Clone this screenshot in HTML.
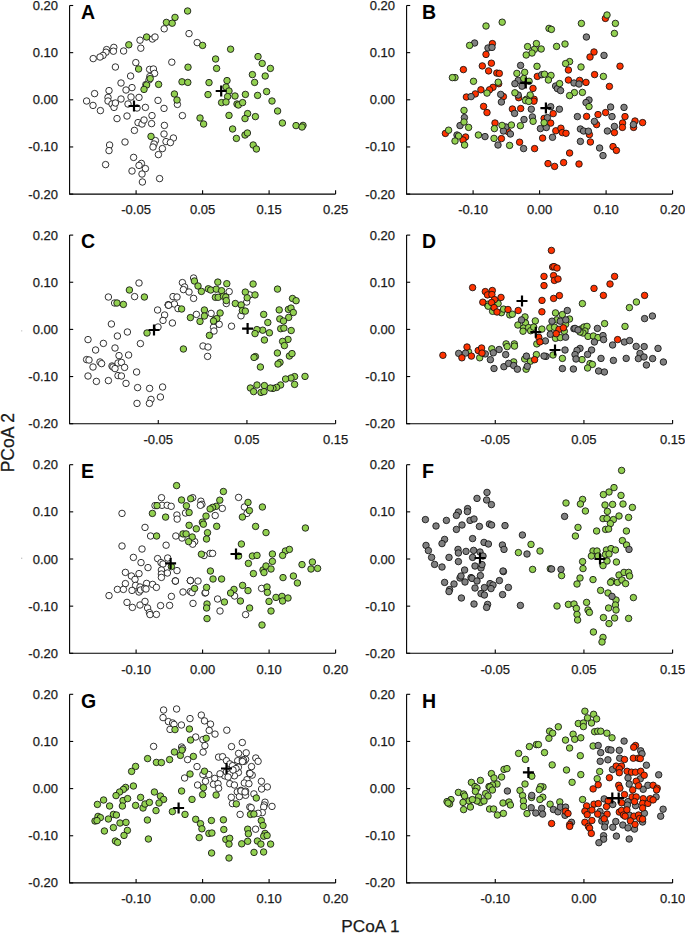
<!DOCTYPE html><html><head><meta charset="utf-8"><style>html,body{margin:0;padding:0;background:#fff;}svg{display:block;}text{font-family:"Liberation Sans",sans-serif;}</style></head><body><svg width="685" height="933" viewBox="0 0 685 933"><g><circle cx="164.2" cy="28.8" r="3.25" fill="#ffffff" stroke="#111" stroke-width="0.85"/><circle cx="189.0" cy="33.6" r="3.25" fill="#ffffff" stroke="#111" stroke-width="0.85"/><circle cx="197.2" cy="42.6" r="3.25" fill="#ffffff" stroke="#111" stroke-width="0.85"/><circle cx="140.0" cy="40.2" r="3.25" fill="#ffffff" stroke="#111" stroke-width="0.85"/><circle cx="152.4" cy="39.0" r="3.25" fill="#ffffff" stroke="#111" stroke-width="0.85"/><circle cx="155.0" cy="37.0" r="3.25" fill="#ffffff" stroke="#111" stroke-width="0.85"/><circle cx="140.8" cy="48.2" r="3.25" fill="#ffffff" stroke="#111" stroke-width="0.85"/><circle cx="113.8" cy="47.4" r="3.25" fill="#ffffff" stroke="#111" stroke-width="0.85"/><circle cx="106.6" cy="49.6" r="3.25" fill="#ffffff" stroke="#111" stroke-width="0.85"/><circle cx="113.4" cy="51.2" r="3.25" fill="#ffffff" stroke="#111" stroke-width="0.85"/><circle cx="123.6" cy="51.0" r="3.25" fill="#ffffff" stroke="#111" stroke-width="0.85"/><circle cx="106.0" cy="52.2" r="3.25" fill="#ffffff" stroke="#111" stroke-width="0.85"/><circle cx="103.0" cy="55.4" r="3.25" fill="#ffffff" stroke="#111" stroke-width="0.85"/><circle cx="100.0" cy="57.0" r="3.25" fill="#ffffff" stroke="#111" stroke-width="0.85"/><circle cx="93.2" cy="58.6" r="3.25" fill="#ffffff" stroke="#111" stroke-width="0.85"/><circle cx="115.4" cy="67.0" r="3.25" fill="#ffffff" stroke="#111" stroke-width="0.85"/><circle cx="135.8" cy="62.6" r="3.25" fill="#ffffff" stroke="#111" stroke-width="0.85"/><circle cx="171.8" cy="62.2" r="3.25" fill="#ffffff" stroke="#111" stroke-width="0.85"/><circle cx="149.6" cy="69.4" r="3.25" fill="#ffffff" stroke="#111" stroke-width="0.85"/><circle cx="153.4" cy="69.0" r="3.25" fill="#ffffff" stroke="#111" stroke-width="0.85"/><circle cx="154.6" cy="73.4" r="3.25" fill="#ffffff" stroke="#111" stroke-width="0.85"/><circle cx="149.8" cy="76.6" r="3.25" fill="#ffffff" stroke="#111" stroke-width="0.85"/><circle cx="130.6" cy="76.0" r="3.25" fill="#ffffff" stroke="#111" stroke-width="0.85"/><circle cx="121.0" cy="83.0" r="3.25" fill="#ffffff" stroke="#111" stroke-width="0.85"/><circle cx="132.0" cy="87.6" r="3.25" fill="#ffffff" stroke="#111" stroke-width="0.85"/><circle cx="126.0" cy="90.0" r="3.25" fill="#ffffff" stroke="#111" stroke-width="0.85"/><circle cx="109.0" cy="90.6" r="3.25" fill="#ffffff" stroke="#111" stroke-width="0.85"/><circle cx="94.6" cy="93.6" r="3.25" fill="#ffffff" stroke="#111" stroke-width="0.85"/><circle cx="145.8" cy="84.6" r="3.25" fill="#ffffff" stroke="#111" stroke-width="0.85"/><circle cx="149.0" cy="80.0" r="3.25" fill="#ffffff" stroke="#111" stroke-width="0.85"/><circle cx="86.6" cy="101.0" r="3.25" fill="#ffffff" stroke="#111" stroke-width="0.85"/><circle cx="93.0" cy="105.4" r="3.25" fill="#ffffff" stroke="#111" stroke-width="0.85"/><circle cx="100.4" cy="110.6" r="3.25" fill="#ffffff" stroke="#111" stroke-width="0.85"/><circle cx="108.0" cy="97.4" r="3.25" fill="#ffffff" stroke="#111" stroke-width="0.85"/><circle cx="108.0" cy="101.0" r="3.25" fill="#ffffff" stroke="#111" stroke-width="0.85"/><circle cx="112.0" cy="104.0" r="3.25" fill="#ffffff" stroke="#111" stroke-width="0.85"/><circle cx="114.0" cy="107.4" r="3.25" fill="#ffffff" stroke="#111" stroke-width="0.85"/><circle cx="115.4" cy="103.0" r="3.25" fill="#ffffff" stroke="#111" stroke-width="0.85"/><circle cx="121.0" cy="99.0" r="3.25" fill="#ffffff" stroke="#111" stroke-width="0.85"/><circle cx="131.0" cy="97.0" r="3.25" fill="#ffffff" stroke="#111" stroke-width="0.85"/><circle cx="139.0" cy="97.4" r="3.25" fill="#ffffff" stroke="#111" stroke-width="0.85"/><circle cx="128.0" cy="104.0" r="3.25" fill="#ffffff" stroke="#111" stroke-width="0.85"/><circle cx="137.0" cy="108.0" r="3.25" fill="#ffffff" stroke="#111" stroke-width="0.85"/><circle cx="145.4" cy="107.4" r="3.25" fill="#ffffff" stroke="#111" stroke-width="0.85"/><circle cx="158.0" cy="100.4" r="3.25" fill="#ffffff" stroke="#111" stroke-width="0.85"/><circle cx="164.0" cy="108.4" r="3.25" fill="#ffffff" stroke="#111" stroke-width="0.85"/><circle cx="177.4" cy="104.4" r="3.25" fill="#ffffff" stroke="#111" stroke-width="0.85"/><circle cx="182.4" cy="115.6" r="3.25" fill="#ffffff" stroke="#111" stroke-width="0.85"/><circle cx="152.0" cy="115.6" r="3.25" fill="#ffffff" stroke="#111" stroke-width="0.85"/><circle cx="127.0" cy="116.0" r="3.25" fill="#ffffff" stroke="#111" stroke-width="0.85"/><circle cx="117.0" cy="118.6" r="3.25" fill="#ffffff" stroke="#111" stroke-width="0.85"/><circle cx="138.0" cy="122.6" r="3.25" fill="#ffffff" stroke="#111" stroke-width="0.85"/><circle cx="142.0" cy="124.0" r="3.25" fill="#ffffff" stroke="#111" stroke-width="0.85"/><circle cx="144.0" cy="120.0" r="3.25" fill="#ffffff" stroke="#111" stroke-width="0.85"/><circle cx="151.6" cy="123.6" r="3.25" fill="#ffffff" stroke="#111" stroke-width="0.85"/><circle cx="164.4" cy="125.4" r="3.25" fill="#ffffff" stroke="#111" stroke-width="0.85"/><circle cx="134.4" cy="130.4" r="3.25" fill="#ffffff" stroke="#111" stroke-width="0.85"/><circle cx="164.0" cy="134.0" r="3.25" fill="#ffffff" stroke="#111" stroke-width="0.85"/><circle cx="173.4" cy="138.0" r="3.25" fill="#ffffff" stroke="#111" stroke-width="0.85"/><circle cx="155.4" cy="140.6" r="3.25" fill="#ffffff" stroke="#111" stroke-width="0.85"/><circle cx="166.0" cy="141.6" r="3.25" fill="#ffffff" stroke="#111" stroke-width="0.85"/><circle cx="170.4" cy="142.6" r="3.25" fill="#ffffff" stroke="#111" stroke-width="0.85"/><circle cx="154.0" cy="144.0" r="3.25" fill="#ffffff" stroke="#111" stroke-width="0.85"/><circle cx="153.0" cy="147.0" r="3.25" fill="#ffffff" stroke="#111" stroke-width="0.85"/><circle cx="162.4" cy="148.6" r="3.25" fill="#ffffff" stroke="#111" stroke-width="0.85"/><circle cx="158.4" cy="154.6" r="3.25" fill="#ffffff" stroke="#111" stroke-width="0.85"/><circle cx="125.0" cy="142.0" r="3.25" fill="#ffffff" stroke="#111" stroke-width="0.85"/><circle cx="109.6" cy="145.0" r="3.25" fill="#ffffff" stroke="#111" stroke-width="0.85"/><circle cx="109.0" cy="150.6" r="3.25" fill="#ffffff" stroke="#111" stroke-width="0.85"/><circle cx="133.6" cy="157.4" r="3.25" fill="#ffffff" stroke="#111" stroke-width="0.85"/><circle cx="141.4" cy="163.4" r="3.25" fill="#ffffff" stroke="#111" stroke-width="0.85"/><circle cx="139.0" cy="165.4" r="3.25" fill="#ffffff" stroke="#111" stroke-width="0.85"/><circle cx="145.4" cy="168.6" r="3.25" fill="#ffffff" stroke="#111" stroke-width="0.85"/><circle cx="132.0" cy="171.0" r="3.25" fill="#ffffff" stroke="#111" stroke-width="0.85"/><circle cx="142.0" cy="174.0" r="3.25" fill="#ffffff" stroke="#111" stroke-width="0.85"/><circle cx="159.6" cy="178.6" r="3.25" fill="#ffffff" stroke="#111" stroke-width="0.85"/><circle cx="142.4" cy="182.0" r="3.25" fill="#ffffff" stroke="#111" stroke-width="0.85"/><circle cx="105.6" cy="164.6" r="3.25" fill="#ffffff" stroke="#111" stroke-width="0.85"/><circle cx="187.6" cy="11.0" r="3.25" fill="#92d050" stroke="#111" stroke-width="0.85"/><circle cx="175.0" cy="17.4" r="3.25" fill="#92d050" stroke="#111" stroke-width="0.85"/><circle cx="166.4" cy="22.4" r="3.25" fill="#92d050" stroke="#111" stroke-width="0.85"/><circle cx="172.2" cy="23.2" r="3.25" fill="#92d050" stroke="#111" stroke-width="0.85"/><circle cx="146.6" cy="37.0" r="3.25" fill="#92d050" stroke="#111" stroke-width="0.85"/><circle cx="128.8" cy="44.8" r="3.25" fill="#92d050" stroke="#111" stroke-width="0.85"/><circle cx="202.6" cy="45.4" r="3.25" fill="#92d050" stroke="#111" stroke-width="0.85"/><circle cx="138.6" cy="69.0" r="3.25" fill="#92d050" stroke="#111" stroke-width="0.85"/><circle cx="188.0" cy="67.2" r="3.25" fill="#92d050" stroke="#111" stroke-width="0.85"/><circle cx="150.2" cy="78.6" r="3.25" fill="#92d050" stroke="#111" stroke-width="0.85"/><circle cx="158.6" cy="84.4" r="3.25" fill="#92d050" stroke="#111" stroke-width="0.85"/><circle cx="182.0" cy="81.8" r="3.25" fill="#92d050" stroke="#111" stroke-width="0.85"/><circle cx="187.8" cy="82.4" r="3.25" fill="#92d050" stroke="#111" stroke-width="0.85"/><circle cx="146.6" cy="85.0" r="3.25" fill="#92d050" stroke="#111" stroke-width="0.85"/><circle cx="144.0" cy="89.4" r="3.25" fill="#92d050" stroke="#111" stroke-width="0.85"/><circle cx="174.4" cy="94.0" r="3.25" fill="#92d050" stroke="#111" stroke-width="0.85"/><circle cx="230.6" cy="49.2" r="3.25" fill="#92d050" stroke="#111" stroke-width="0.85"/><circle cx="215.6" cy="59.0" r="3.25" fill="#92d050" stroke="#111" stroke-width="0.85"/><circle cx="216.6" cy="68.4" r="3.25" fill="#92d050" stroke="#111" stroke-width="0.85"/><circle cx="258.0" cy="56.6" r="3.25" fill="#92d050" stroke="#111" stroke-width="0.85"/><circle cx="262.2" cy="63.4" r="3.25" fill="#92d050" stroke="#111" stroke-width="0.85"/><circle cx="270.4" cy="68.4" r="3.25" fill="#92d050" stroke="#111" stroke-width="0.85"/><circle cx="252.4" cy="74.6" r="3.25" fill="#92d050" stroke="#111" stroke-width="0.85"/><circle cx="265.2" cy="76.0" r="3.25" fill="#92d050" stroke="#111" stroke-width="0.85"/><circle cx="254.6" cy="82.4" r="3.25" fill="#92d050" stroke="#111" stroke-width="0.85"/><circle cx="209.0" cy="82.6" r="3.25" fill="#92d050" stroke="#111" stroke-width="0.85"/><circle cx="227.0" cy="80.6" r="3.25" fill="#92d050" stroke="#111" stroke-width="0.85"/><circle cx="226.0" cy="87.0" r="3.25" fill="#92d050" stroke="#111" stroke-width="0.85"/><circle cx="229.0" cy="91.0" r="3.25" fill="#92d050" stroke="#111" stroke-width="0.85"/><circle cx="266.6" cy="91.6" r="3.25" fill="#92d050" stroke="#111" stroke-width="0.85"/><circle cx="208.0" cy="94.6" r="3.25" fill="#92d050" stroke="#111" stroke-width="0.85"/><circle cx="245.4" cy="94.4" r="3.25" fill="#92d050" stroke="#111" stroke-width="0.85"/><circle cx="235.0" cy="96.0" r="3.25" fill="#92d050" stroke="#111" stroke-width="0.85"/><circle cx="227.6" cy="96.6" r="3.25" fill="#92d050" stroke="#111" stroke-width="0.85"/><circle cx="257.6" cy="95.4" r="3.25" fill="#92d050" stroke="#111" stroke-width="0.85"/><circle cx="177.0" cy="100.0" r="3.25" fill="#92d050" stroke="#111" stroke-width="0.85"/><circle cx="151.0" cy="136.4" r="3.25" fill="#92d050" stroke="#111" stroke-width="0.85"/><circle cx="200.0" cy="118.0" r="3.25" fill="#92d050" stroke="#111" stroke-width="0.85"/><circle cx="203.6" cy="124.0" r="3.25" fill="#92d050" stroke="#111" stroke-width="0.85"/><circle cx="221.6" cy="102.6" r="3.25" fill="#92d050" stroke="#111" stroke-width="0.85"/><circle cx="226.0" cy="102.0" r="3.25" fill="#92d050" stroke="#111" stroke-width="0.85"/><circle cx="237.0" cy="104.0" r="3.25" fill="#92d050" stroke="#111" stroke-width="0.85"/><circle cx="238.4" cy="105.0" r="3.25" fill="#92d050" stroke="#111" stroke-width="0.85"/><circle cx="242.6" cy="102.6" r="3.25" fill="#92d050" stroke="#111" stroke-width="0.85"/><circle cx="229.0" cy="115.4" r="3.25" fill="#92d050" stroke="#111" stroke-width="0.85"/><circle cx="247.6" cy="113.6" r="3.25" fill="#92d050" stroke="#111" stroke-width="0.85"/><circle cx="245.0" cy="118.6" r="3.25" fill="#92d050" stroke="#111" stroke-width="0.85"/><circle cx="255.4" cy="116.6" r="3.25" fill="#92d050" stroke="#111" stroke-width="0.85"/><circle cx="272.0" cy="101.0" r="3.25" fill="#92d050" stroke="#111" stroke-width="0.85"/><circle cx="277.6" cy="111.0" r="3.25" fill="#92d050" stroke="#111" stroke-width="0.85"/><circle cx="282.4" cy="123.0" r="3.25" fill="#92d050" stroke="#111" stroke-width="0.85"/><circle cx="296.0" cy="125.6" r="3.25" fill="#92d050" stroke="#111" stroke-width="0.85"/><circle cx="303.0" cy="125.4" r="3.25" fill="#92d050" stroke="#111" stroke-width="0.85"/><circle cx="302.0" cy="127.0" r="3.25" fill="#92d050" stroke="#111" stroke-width="0.85"/><circle cx="232.6" cy="129.0" r="3.25" fill="#92d050" stroke="#111" stroke-width="0.85"/><circle cx="245.0" cy="135.0" r="3.25" fill="#92d050" stroke="#111" stroke-width="0.85"/><circle cx="247.4" cy="133.0" r="3.25" fill="#92d050" stroke="#111" stroke-width="0.85"/><circle cx="236.4" cy="138.4" r="3.25" fill="#92d050" stroke="#111" stroke-width="0.85"/><circle cx="253.2" cy="145.0" r="3.25" fill="#92d050" stroke="#111" stroke-width="0.85"/><circle cx="256.4" cy="149.0" r="3.25" fill="#92d050" stroke="#111" stroke-width="0.85"/><path d="M215.7 91.0h11M221.2 85.5v11" stroke="#000" stroke-width="2.2" fill="none"/><path d="M128.5 106.0h11M134.0 100.5v11" stroke="#000" stroke-width="2.2" fill="none"/><path d="M69.6 5.5V194.1H335.6" stroke="#000" stroke-width="1.1" fill="none"/><path d="M69.6 5.50h3.6" stroke="#000" stroke-width="1.1"/><text x="58.0" y="10.00" font-size="13" text-anchor="end" fill="#1a1a1a" stroke="#1a1a1a" stroke-width="0.25">0.20</text><path d="M69.6 52.65h3.6" stroke="#000" stroke-width="1.1"/><text x="58.0" y="57.15" font-size="13" text-anchor="end" fill="#1a1a1a" stroke="#1a1a1a" stroke-width="0.25">0.10</text><path d="M69.6 99.80h3.6" stroke="#000" stroke-width="1.1"/><text x="58.0" y="104.30" font-size="13" text-anchor="end" fill="#1a1a1a" stroke="#1a1a1a" stroke-width="0.25">0.00</text><path d="M69.6 146.95h3.6" stroke="#000" stroke-width="1.1"/><text x="58.0" y="151.45" font-size="13" text-anchor="end" fill="#1a1a1a" stroke="#1a1a1a" stroke-width="0.25">-0.10</text><path d="M69.6 194.10h3.6" stroke="#000" stroke-width="1.1"/><text x="58.0" y="198.60" font-size="13" text-anchor="end" fill="#1a1a1a" stroke="#1a1a1a" stroke-width="0.25">-0.20</text><path d="M136.10 194.1v-3.8" stroke="#000" stroke-width="1.1"/><text x="136.10" y="214.30" font-size="13" text-anchor="middle" fill="#1a1a1a" stroke="#1a1a1a" stroke-width="0.25">-0.05</text><path d="M202.60 194.1v-3.8" stroke="#000" stroke-width="1.1"/><text x="202.60" y="214.30" font-size="13" text-anchor="middle" fill="#1a1a1a" stroke="#1a1a1a" stroke-width="0.25">0.05</text><path d="M269.10 194.1v-3.8" stroke="#000" stroke-width="1.1"/><text x="269.10" y="214.30" font-size="13" text-anchor="middle" fill="#1a1a1a" stroke="#1a1a1a" stroke-width="0.25">0.15</text><path d="M335.60 194.1v-3.8" stroke="#000" stroke-width="1.1"/><text x="335.60" y="214.30" font-size="13" text-anchor="middle" fill="#1a1a1a" stroke="#1a1a1a" stroke-width="0.25">0.25</text><text x="81.0" y="18.7" font-size="19.5" font-weight="bold" fill="#000">A</text></g><g><circle cx="492.4" cy="43.6" r="3.25" fill="#ff3300" stroke="#111" stroke-width="0.85"/><circle cx="486.0" cy="54.4" r="3.25" fill="#ff3300" stroke="#111" stroke-width="0.85"/><circle cx="463.4" cy="69.6" r="3.25" fill="#ff3300" stroke="#111" stroke-width="0.85"/><circle cx="466.4" cy="97.0" r="3.25" fill="#ff3300" stroke="#111" stroke-width="0.85"/><circle cx="491.4" cy="63.2" r="3.25" fill="#ff3300" stroke="#111" stroke-width="0.85"/><circle cx="482.3" cy="65.9" r="3.25" fill="#ff3300" stroke="#111" stroke-width="0.85"/><circle cx="488.6" cy="70.9" r="3.25" fill="#ff3300" stroke="#111" stroke-width="0.85"/><circle cx="496.8" cy="73.1" r="3.25" fill="#ff3300" stroke="#111" stroke-width="0.85"/><circle cx="499.3" cy="73.4" r="3.25" fill="#ff3300" stroke="#111" stroke-width="0.85"/><circle cx="498.7" cy="83.7" r="3.25" fill="#ff3300" stroke="#111" stroke-width="0.85"/><circle cx="493.0" cy="87.3" r="3.25" fill="#ff3300" stroke="#111" stroke-width="0.85"/><circle cx="489.5" cy="89.8" r="3.25" fill="#ff3300" stroke="#111" stroke-width="0.85"/><circle cx="480.9" cy="89.8" r="3.25" fill="#ff3300" stroke="#111" stroke-width="0.85"/><circle cx="475.3" cy="93.9" r="3.25" fill="#ff3300" stroke="#111" stroke-width="0.85"/><circle cx="503.4" cy="96.6" r="3.25" fill="#ff3300" stroke="#111" stroke-width="0.85"/><circle cx="537.3" cy="76.4" r="3.25" fill="#ff3300" stroke="#111" stroke-width="0.85"/><circle cx="533.0" cy="88.4" r="3.25" fill="#ff3300" stroke="#111" stroke-width="0.85"/><circle cx="518.7" cy="97.7" r="3.25" fill="#ff3300" stroke="#111" stroke-width="0.85"/><circle cx="534.1" cy="99.3" r="3.25" fill="#ff3300" stroke="#111" stroke-width="0.85"/><circle cx="605.4" cy="18.4" r="3.25" fill="#ff3300" stroke="#111" stroke-width="0.85"/><circle cx="594.0" cy="52.0" r="3.25" fill="#ff3300" stroke="#111" stroke-width="0.85"/><circle cx="590.0" cy="57.0" r="3.25" fill="#ff3300" stroke="#111" stroke-width="0.85"/><circle cx="568.4" cy="70.0" r="3.25" fill="#ff3300" stroke="#111" stroke-width="0.85"/><circle cx="620.0" cy="66.2" r="3.25" fill="#ff3300" stroke="#111" stroke-width="0.85"/><circle cx="594.6" cy="74.6" r="3.25" fill="#ff3300" stroke="#111" stroke-width="0.85"/><circle cx="568.4" cy="80.0" r="3.25" fill="#ff3300" stroke="#111" stroke-width="0.85"/><circle cx="579.6" cy="80.4" r="3.25" fill="#ff3300" stroke="#111" stroke-width="0.85"/><circle cx="586.0" cy="82.4" r="3.25" fill="#ff3300" stroke="#111" stroke-width="0.85"/><circle cx="609.4" cy="86.4" r="3.25" fill="#ff3300" stroke="#111" stroke-width="0.85"/><circle cx="483.6" cy="106.4" r="3.25" fill="#ff3300" stroke="#111" stroke-width="0.85"/><circle cx="487.0" cy="112.6" r="3.25" fill="#ff3300" stroke="#111" stroke-width="0.85"/><circle cx="512.4" cy="109.0" r="3.25" fill="#ff3300" stroke="#111" stroke-width="0.85"/><circle cx="445.4" cy="133.4" r="3.25" fill="#ff3300" stroke="#111" stroke-width="0.85"/><circle cx="465.6" cy="137.0" r="3.25" fill="#ff3300" stroke="#111" stroke-width="0.85"/><circle cx="463.0" cy="140.0" r="3.25" fill="#ff3300" stroke="#111" stroke-width="0.85"/><circle cx="495.0" cy="123.0" r="3.25" fill="#ff3300" stroke="#111" stroke-width="0.85"/><circle cx="508.0" cy="131.6" r="3.25" fill="#ff3300" stroke="#111" stroke-width="0.85"/><circle cx="501.4" cy="138.6" r="3.25" fill="#ff3300" stroke="#111" stroke-width="0.85"/><circle cx="519.6" cy="142.2" r="3.25" fill="#ff3300" stroke="#111" stroke-width="0.85"/><circle cx="534.6" cy="148.6" r="3.25" fill="#ff3300" stroke="#111" stroke-width="0.85"/><circle cx="586.6" cy="116.4" r="3.25" fill="#ff3300" stroke="#111" stroke-width="0.85"/><circle cx="598.0" cy="114.6" r="3.25" fill="#ff3300" stroke="#111" stroke-width="0.85"/><circle cx="605.6" cy="112.6" r="3.25" fill="#ff3300" stroke="#111" stroke-width="0.85"/><circle cx="596.6" cy="124.6" r="3.25" fill="#ff3300" stroke="#111" stroke-width="0.85"/><circle cx="625.0" cy="116.6" r="3.25" fill="#ff3300" stroke="#111" stroke-width="0.85"/><circle cx="622.6" cy="123.0" r="3.25" fill="#ff3300" stroke="#111" stroke-width="0.85"/><circle cx="622.4" cy="127.4" r="3.25" fill="#ff3300" stroke="#111" stroke-width="0.85"/><circle cx="635.0" cy="121.0" r="3.25" fill="#ff3300" stroke="#111" stroke-width="0.85"/><circle cx="633.6" cy="127.4" r="3.25" fill="#ff3300" stroke="#111" stroke-width="0.85"/><circle cx="642.6" cy="122.6" r="3.25" fill="#ff3300" stroke="#111" stroke-width="0.85"/><circle cx="614.4" cy="132.6" r="3.25" fill="#ff3300" stroke="#111" stroke-width="0.85"/><circle cx="589.4" cy="134.6" r="3.25" fill="#ff3300" stroke="#111" stroke-width="0.85"/><circle cx="590.4" cy="142.0" r="3.25" fill="#ff3300" stroke="#111" stroke-width="0.85"/><circle cx="613.0" cy="146.6" r="3.25" fill="#ff3300" stroke="#111" stroke-width="0.85"/><circle cx="616.4" cy="150.4" r="3.25" fill="#ff3300" stroke="#111" stroke-width="0.85"/><circle cx="569.6" cy="153.0" r="3.25" fill="#ff3300" stroke="#111" stroke-width="0.85"/><circle cx="548.0" cy="163.6" r="3.25" fill="#ff3300" stroke="#111" stroke-width="0.85"/><circle cx="554.6" cy="166.4" r="3.25" fill="#ff3300" stroke="#111" stroke-width="0.85"/><circle cx="563.6" cy="162.6" r="3.25" fill="#ff3300" stroke="#111" stroke-width="0.85"/><circle cx="579.0" cy="164.0" r="3.25" fill="#ff3300" stroke="#111" stroke-width="0.85"/><circle cx="533.9" cy="101.2" r="3.25" fill="#ff3300" stroke="#111" stroke-width="0.85"/><circle cx="520.7" cy="108.5" r="3.25" fill="#ff3300" stroke="#111" stroke-width="0.85"/><circle cx="553.2" cy="113.6" r="3.25" fill="#ff3300" stroke="#111" stroke-width="0.85"/><circle cx="544.1" cy="118.4" r="3.25" fill="#ff3300" stroke="#111" stroke-width="0.85"/><circle cx="550.7" cy="123.1" r="3.25" fill="#ff3300" stroke="#111" stroke-width="0.85"/><circle cx="555.8" cy="130.8" r="3.25" fill="#ff3300" stroke="#111" stroke-width="0.85"/><circle cx="560.9" cy="128.2" r="3.25" fill="#ff3300" stroke="#111" stroke-width="0.85"/><circle cx="562.3" cy="132.6" r="3.25" fill="#ff3300" stroke="#111" stroke-width="0.85"/><circle cx="566.0" cy="133.3" r="3.25" fill="#ff3300" stroke="#111" stroke-width="0.85"/><circle cx="542.6" cy="138.1" r="3.25" fill="#ff3300" stroke="#111" stroke-width="0.85"/><circle cx="474.6" cy="43.0" r="3.25" fill="#808080" stroke="#111" stroke-width="0.85"/><circle cx="488.0" cy="48.0" r="3.25" fill="#808080" stroke="#111" stroke-width="0.85"/><circle cx="492.0" cy="47.4" r="3.25" fill="#808080" stroke="#111" stroke-width="0.85"/><circle cx="471.1" cy="96.6" r="3.25" fill="#808080" stroke="#111" stroke-width="0.85"/><circle cx="500.7" cy="94.4" r="3.25" fill="#808080" stroke="#111" stroke-width="0.85"/><circle cx="520.6" cy="65.4" r="3.25" fill="#808080" stroke="#111" stroke-width="0.85"/><circle cx="518.2" cy="80.4" r="3.25" fill="#808080" stroke="#111" stroke-width="0.85"/><circle cx="514.9" cy="83.7" r="3.25" fill="#808080" stroke="#111" stroke-width="0.85"/><circle cx="522.0" cy="86.2" r="3.25" fill="#808080" stroke="#111" stroke-width="0.85"/><circle cx="541.7" cy="74.7" r="3.25" fill="#808080" stroke="#111" stroke-width="0.85"/><circle cx="518.2" cy="95.0" r="3.25" fill="#808080" stroke="#111" stroke-width="0.85"/><circle cx="586.4" cy="37.0" r="3.25" fill="#808080" stroke="#111" stroke-width="0.85"/><circle cx="604.0" cy="55.4" r="3.25" fill="#808080" stroke="#111" stroke-width="0.85"/><circle cx="574.0" cy="83.0" r="3.25" fill="#808080" stroke="#111" stroke-width="0.85"/><circle cx="579.0" cy="84.0" r="3.25" fill="#808080" stroke="#111" stroke-width="0.85"/><circle cx="555.6" cy="86.0" r="3.25" fill="#808080" stroke="#111" stroke-width="0.85"/><circle cx="557.4" cy="88.6" r="3.25" fill="#808080" stroke="#111" stroke-width="0.85"/><circle cx="560.6" cy="90.6" r="3.25" fill="#808080" stroke="#111" stroke-width="0.85"/><circle cx="501.4" cy="102.0" r="3.25" fill="#808080" stroke="#111" stroke-width="0.85"/><circle cx="514.6" cy="113.4" r="3.25" fill="#808080" stroke="#111" stroke-width="0.85"/><circle cx="464.4" cy="117.6" r="3.25" fill="#808080" stroke="#111" stroke-width="0.85"/><circle cx="460.0" cy="125.6" r="3.25" fill="#808080" stroke="#111" stroke-width="0.85"/><circle cx="457.0" cy="135.0" r="3.25" fill="#808080" stroke="#111" stroke-width="0.85"/><circle cx="485.0" cy="136.6" r="3.25" fill="#808080" stroke="#111" stroke-width="0.85"/><circle cx="506.0" cy="127.0" r="3.25" fill="#808080" stroke="#111" stroke-width="0.85"/><circle cx="503.4" cy="131.0" r="3.25" fill="#808080" stroke="#111" stroke-width="0.85"/><circle cx="510.4" cy="134.0" r="3.25" fill="#808080" stroke="#111" stroke-width="0.85"/><circle cx="498.0" cy="145.0" r="3.25" fill="#808080" stroke="#111" stroke-width="0.85"/><circle cx="523.6" cy="148.6" r="3.25" fill="#808080" stroke="#111" stroke-width="0.85"/><circle cx="589.0" cy="100.0" r="3.25" fill="#808080" stroke="#111" stroke-width="0.85"/><circle cx="586.0" cy="102.6" r="3.25" fill="#808080" stroke="#111" stroke-width="0.85"/><circle cx="610.6" cy="107.0" r="3.25" fill="#808080" stroke="#111" stroke-width="0.85"/><circle cx="624.0" cy="107.4" r="3.25" fill="#808080" stroke="#111" stroke-width="0.85"/><circle cx="577.4" cy="116.6" r="3.25" fill="#808080" stroke="#111" stroke-width="0.85"/><circle cx="612.0" cy="116.6" r="3.25" fill="#808080" stroke="#111" stroke-width="0.85"/><circle cx="594.4" cy="121.4" r="3.25" fill="#808080" stroke="#111" stroke-width="0.85"/><circle cx="633.4" cy="124.6" r="3.25" fill="#808080" stroke="#111" stroke-width="0.85"/><circle cx="614.4" cy="126.4" r="3.25" fill="#808080" stroke="#111" stroke-width="0.85"/><circle cx="607.4" cy="131.0" r="3.25" fill="#808080" stroke="#111" stroke-width="0.85"/><circle cx="580.4" cy="129.0" r="3.25" fill="#808080" stroke="#111" stroke-width="0.85"/><circle cx="583.6" cy="131.0" r="3.25" fill="#808080" stroke="#111" stroke-width="0.85"/><circle cx="588.4" cy="131.2" r="3.25" fill="#808080" stroke="#111" stroke-width="0.85"/><circle cx="580.4" cy="141.4" r="3.25" fill="#808080" stroke="#111" stroke-width="0.85"/><circle cx="599.6" cy="148.0" r="3.25" fill="#808080" stroke="#111" stroke-width="0.85"/><circle cx="603.0" cy="155.6" r="3.25" fill="#808080" stroke="#111" stroke-width="0.85"/><circle cx="531.3" cy="109.2" r="3.25" fill="#808080" stroke="#111" stroke-width="0.85"/><circle cx="550.7" cy="106.7" r="3.25" fill="#808080" stroke="#111" stroke-width="0.85"/><circle cx="559.4" cy="109.2" r="3.25" fill="#808080" stroke="#111" stroke-width="0.85"/><circle cx="532.4" cy="116.9" r="3.25" fill="#808080" stroke="#111" stroke-width="0.85"/><circle cx="524.0" cy="119.5" r="3.25" fill="#808080" stroke="#111" stroke-width="0.85"/><circle cx="547.4" cy="117.6" r="3.25" fill="#808080" stroke="#111" stroke-width="0.85"/><circle cx="540.4" cy="128.6" r="3.25" fill="#808080" stroke="#111" stroke-width="0.85"/><circle cx="546.3" cy="127.5" r="3.25" fill="#808080" stroke="#111" stroke-width="0.85"/><circle cx="552.5" cy="137.3" r="3.25" fill="#808080" stroke="#111" stroke-width="0.85"/><circle cx="502.2" cy="22.2" r="3.25" fill="#92d050" stroke="#111" stroke-width="0.85"/><circle cx="486.0" cy="26.0" r="3.25" fill="#92d050" stroke="#111" stroke-width="0.85"/><circle cx="469.6" cy="45.4" r="3.25" fill="#92d050" stroke="#111" stroke-width="0.85"/><circle cx="527.6" cy="46.6" r="3.25" fill="#92d050" stroke="#111" stroke-width="0.85"/><circle cx="536.4" cy="43.6" r="3.25" fill="#92d050" stroke="#111" stroke-width="0.85"/><circle cx="534.4" cy="49.4" r="3.25" fill="#92d050" stroke="#111" stroke-width="0.85"/><circle cx="532.0" cy="53.0" r="3.25" fill="#92d050" stroke="#111" stroke-width="0.85"/><circle cx="526.2" cy="55.0" r="3.25" fill="#92d050" stroke="#111" stroke-width="0.85"/><circle cx="541.2" cy="49.0" r="3.25" fill="#92d050" stroke="#111" stroke-width="0.85"/><circle cx="455.0" cy="77.6" r="3.25" fill="#92d050" stroke="#111" stroke-width="0.85"/><circle cx="452.4" cy="77.6" r="3.25" fill="#92d050" stroke="#111" stroke-width="0.85"/><circle cx="473.5" cy="81.3" r="3.25" fill="#92d050" stroke="#111" stroke-width="0.85"/><circle cx="498.2" cy="82.2" r="3.25" fill="#92d050" stroke="#111" stroke-width="0.85"/><circle cx="487.0" cy="93.1" r="3.25" fill="#92d050" stroke="#111" stroke-width="0.85"/><circle cx="537.0" cy="66.3" r="3.25" fill="#92d050" stroke="#111" stroke-width="0.85"/><circle cx="516.9" cy="73.4" r="3.25" fill="#92d050" stroke="#111" stroke-width="0.85"/><circle cx="524.7" cy="72.3" r="3.25" fill="#92d050" stroke="#111" stroke-width="0.85"/><circle cx="523.7" cy="78.5" r="3.25" fill="#92d050" stroke="#111" stroke-width="0.85"/><circle cx="529.1" cy="81.3" r="3.25" fill="#92d050" stroke="#111" stroke-width="0.85"/><circle cx="544.5" cy="74.2" r="3.25" fill="#92d050" stroke="#111" stroke-width="0.85"/><circle cx="514.9" cy="92.8" r="3.25" fill="#92d050" stroke="#111" stroke-width="0.85"/><circle cx="530.2" cy="95.0" r="3.25" fill="#92d050" stroke="#111" stroke-width="0.85"/><circle cx="526.4" cy="99.3" r="3.25" fill="#92d050" stroke="#111" stroke-width="0.85"/><circle cx="607.0" cy="15.0" r="3.25" fill="#92d050" stroke="#111" stroke-width="0.85"/><circle cx="615.4" cy="23.4" r="3.25" fill="#92d050" stroke="#111" stroke-width="0.85"/><circle cx="614.4" cy="33.4" r="3.25" fill="#92d050" stroke="#111" stroke-width="0.85"/><circle cx="581.4" cy="23.4" r="3.25" fill="#92d050" stroke="#111" stroke-width="0.85"/><circle cx="549.0" cy="28.4" r="3.25" fill="#92d050" stroke="#111" stroke-width="0.85"/><circle cx="551.4" cy="29.4" r="3.25" fill="#92d050" stroke="#111" stroke-width="0.85"/><circle cx="565.0" cy="44.0" r="3.25" fill="#92d050" stroke="#111" stroke-width="0.85"/><circle cx="556.6" cy="46.4" r="3.25" fill="#92d050" stroke="#111" stroke-width="0.85"/><circle cx="569.6" cy="61.6" r="3.25" fill="#92d050" stroke="#111" stroke-width="0.85"/><circle cx="565.6" cy="63.6" r="3.25" fill="#92d050" stroke="#111" stroke-width="0.85"/><circle cx="581.0" cy="67.0" r="3.25" fill="#92d050" stroke="#111" stroke-width="0.85"/><circle cx="551.0" cy="75.4" r="3.25" fill="#92d050" stroke="#111" stroke-width="0.85"/><circle cx="548.4" cy="80.0" r="3.25" fill="#92d050" stroke="#111" stroke-width="0.85"/><circle cx="603.4" cy="76.4" r="3.25" fill="#92d050" stroke="#111" stroke-width="0.85"/><circle cx="559.6" cy="83.6" r="3.25" fill="#92d050" stroke="#111" stroke-width="0.85"/><circle cx="574.4" cy="92.6" r="3.25" fill="#92d050" stroke="#111" stroke-width="0.85"/><circle cx="582.4" cy="92.4" r="3.25" fill="#92d050" stroke="#111" stroke-width="0.85"/><circle cx="569.6" cy="95.6" r="3.25" fill="#92d050" stroke="#111" stroke-width="0.85"/><circle cx="464.0" cy="110.4" r="3.25" fill="#92d050" stroke="#111" stroke-width="0.85"/><circle cx="464.0" cy="122.0" r="3.25" fill="#92d050" stroke="#111" stroke-width="0.85"/><circle cx="468.6" cy="127.4" r="3.25" fill="#92d050" stroke="#111" stroke-width="0.85"/><circle cx="448.6" cy="130.2" r="3.25" fill="#92d050" stroke="#111" stroke-width="0.85"/><circle cx="458.6" cy="136.0" r="3.25" fill="#92d050" stroke="#111" stroke-width="0.85"/><circle cx="455.0" cy="141.0" r="3.25" fill="#92d050" stroke="#111" stroke-width="0.85"/><circle cx="464.6" cy="145.0" r="3.25" fill="#92d050" stroke="#111" stroke-width="0.85"/><circle cx="478.4" cy="135.0" r="3.25" fill="#92d050" stroke="#111" stroke-width="0.85"/><circle cx="494.4" cy="128.6" r="3.25" fill="#92d050" stroke="#111" stroke-width="0.85"/><circle cx="502.0" cy="125.4" r="3.25" fill="#92d050" stroke="#111" stroke-width="0.85"/><circle cx="511.4" cy="125.0" r="3.25" fill="#92d050" stroke="#111" stroke-width="0.85"/><circle cx="494.0" cy="138.4" r="3.25" fill="#92d050" stroke="#111" stroke-width="0.85"/><circle cx="509.6" cy="145.4" r="3.25" fill="#92d050" stroke="#111" stroke-width="0.85"/><circle cx="589.0" cy="106.6" r="3.25" fill="#92d050" stroke="#111" stroke-width="0.85"/><circle cx="525.5" cy="100.5" r="3.25" fill="#92d050" stroke="#111" stroke-width="0.85"/><circle cx="528.8" cy="101.4" r="3.25" fill="#92d050" stroke="#111" stroke-width="0.85"/><circle cx="533.1" cy="121.3" r="3.25" fill="#92d050" stroke="#111" stroke-width="0.85"/><circle cx="520.4" cy="125.7" r="3.25" fill="#92d050" stroke="#111" stroke-width="0.85"/><circle cx="544.1" cy="122.7" r="3.25" fill="#92d050" stroke="#111" stroke-width="0.85"/><path d="M520.3 82.9h11M525.8 77.4v11" stroke="#000" stroke-width="2.2" fill="none"/><path d="M540.4 108.1h11M545.9 102.6v11" stroke="#000" stroke-width="2.2" fill="none"/><path d="M406.6 5.5V194.1H672.6" stroke="#000" stroke-width="1.1" fill="none"/><path d="M406.6 5.50h3.6" stroke="#000" stroke-width="1.1"/><text x="395.0" y="10.00" font-size="13" text-anchor="end" fill="#1a1a1a" stroke="#1a1a1a" stroke-width="0.25">0.20</text><path d="M406.6 52.65h3.6" stroke="#000" stroke-width="1.1"/><text x="395.0" y="57.15" font-size="13" text-anchor="end" fill="#1a1a1a" stroke="#1a1a1a" stroke-width="0.25">0.10</text><path d="M406.6 99.80h3.6" stroke="#000" stroke-width="1.1"/><text x="395.0" y="104.30" font-size="13" text-anchor="end" fill="#1a1a1a" stroke="#1a1a1a" stroke-width="0.25">0.00</text><path d="M406.6 146.95h3.6" stroke="#000" stroke-width="1.1"/><text x="395.0" y="151.45" font-size="13" text-anchor="end" fill="#1a1a1a" stroke="#1a1a1a" stroke-width="0.25">-0.10</text><path d="M406.6 194.10h3.6" stroke="#000" stroke-width="1.1"/><text x="395.0" y="198.60" font-size="13" text-anchor="end" fill="#1a1a1a" stroke="#1a1a1a" stroke-width="0.25">-0.20</text><path d="M473.10 194.1v-3.8" stroke="#000" stroke-width="1.1"/><text x="473.10" y="214.30" font-size="13" text-anchor="middle" fill="#1a1a1a" stroke="#1a1a1a" stroke-width="0.25">-0.10</text><path d="M539.60 194.1v-3.8" stroke="#000" stroke-width="1.1"/><text x="539.60" y="214.30" font-size="13" text-anchor="middle" fill="#1a1a1a" stroke="#1a1a1a" stroke-width="0.25">0.00</text><path d="M606.10 194.1v-3.8" stroke="#000" stroke-width="1.1"/><text x="606.10" y="214.30" font-size="13" text-anchor="middle" fill="#1a1a1a" stroke="#1a1a1a" stroke-width="0.25">0.10</text><path d="M672.60 194.1v-3.8" stroke="#000" stroke-width="1.1"/><text x="672.60" y="214.30" font-size="13" text-anchor="middle" fill="#1a1a1a" stroke="#1a1a1a" stroke-width="0.25">0.20</text><text x="422.0" y="18.7" font-size="19.5" font-weight="bold" fill="#000">B</text></g><g><circle cx="139.0" cy="283.0" r="3.25" fill="#ffffff" stroke="#111" stroke-width="0.85"/><circle cx="108.4" cy="297.0" r="3.25" fill="#ffffff" stroke="#111" stroke-width="0.85"/><circle cx="114.6" cy="303.0" r="3.25" fill="#ffffff" stroke="#111" stroke-width="0.85"/><circle cx="134.6" cy="296.6" r="3.25" fill="#ffffff" stroke="#111" stroke-width="0.85"/><circle cx="182.4" cy="282.6" r="3.25" fill="#ffffff" stroke="#111" stroke-width="0.85"/><circle cx="193.6" cy="278.0" r="3.25" fill="#ffffff" stroke="#111" stroke-width="0.85"/><circle cx="184.6" cy="287.0" r="3.25" fill="#ffffff" stroke="#111" stroke-width="0.85"/><circle cx="183.4" cy="289.6" r="3.25" fill="#ffffff" stroke="#111" stroke-width="0.85"/><circle cx="189.0" cy="292.0" r="3.25" fill="#ffffff" stroke="#111" stroke-width="0.85"/><circle cx="193.6" cy="298.4" r="3.25" fill="#ffffff" stroke="#111" stroke-width="0.85"/><circle cx="173.0" cy="296.6" r="3.25" fill="#ffffff" stroke="#111" stroke-width="0.85"/><circle cx="177.0" cy="297.0" r="3.25" fill="#ffffff" stroke="#111" stroke-width="0.85"/><circle cx="174.4" cy="304.0" r="3.25" fill="#ffffff" stroke="#111" stroke-width="0.85"/><circle cx="168.4" cy="305.0" r="3.25" fill="#ffffff" stroke="#111" stroke-width="0.85"/><circle cx="168.4" cy="305.0" r="3.25" fill="#ffffff" stroke="#111" stroke-width="0.85"/><circle cx="168.2" cy="304.8" r="3.25" fill="#ffffff" stroke="#111" stroke-width="0.85"/><circle cx="168.6" cy="305.2" r="3.25" fill="#ffffff" stroke="#111" stroke-width="0.85"/><circle cx="178.0" cy="308.6" r="3.25" fill="#ffffff" stroke="#111" stroke-width="0.85"/><circle cx="157.6" cy="310.0" r="3.25" fill="#ffffff" stroke="#111" stroke-width="0.85"/><circle cx="164.6" cy="315.0" r="3.25" fill="#ffffff" stroke="#111" stroke-width="0.85"/><circle cx="163.0" cy="320.4" r="3.25" fill="#ffffff" stroke="#111" stroke-width="0.85"/><circle cx="172.4" cy="323.0" r="3.25" fill="#ffffff" stroke="#111" stroke-width="0.85"/><circle cx="196.4" cy="314.4" r="3.25" fill="#ffffff" stroke="#111" stroke-width="0.85"/><circle cx="111.4" cy="324.0" r="3.25" fill="#ffffff" stroke="#111" stroke-width="0.85"/><circle cx="158.0" cy="327.0" r="3.25" fill="#ffffff" stroke="#111" stroke-width="0.85"/><circle cx="229.2" cy="291.6" r="3.25" fill="#ffffff" stroke="#111" stroke-width="0.85"/><circle cx="226.3" cy="303.5" r="3.25" fill="#ffffff" stroke="#111" stroke-width="0.85"/><circle cx="249.6" cy="294.9" r="3.25" fill="#ffffff" stroke="#111" stroke-width="0.85"/><circle cx="246.7" cy="302.0" r="3.25" fill="#ffffff" stroke="#111" stroke-width="0.85"/><circle cx="241.0" cy="315.8" r="3.25" fill="#ffffff" stroke="#111" stroke-width="0.85"/><circle cx="211.1" cy="313.4" r="3.25" fill="#ffffff" stroke="#111" stroke-width="0.85"/><circle cx="219.2" cy="324.3" r="3.25" fill="#ffffff" stroke="#111" stroke-width="0.85"/><circle cx="213.5" cy="327.2" r="3.25" fill="#ffffff" stroke="#111" stroke-width="0.85"/><circle cx="231.5" cy="326.2" r="3.25" fill="#ffffff" stroke="#111" stroke-width="0.85"/><circle cx="127.4" cy="332.0" r="3.25" fill="#ffffff" stroke="#111" stroke-width="0.85"/><circle cx="117.4" cy="336.0" r="3.25" fill="#ffffff" stroke="#111" stroke-width="0.85"/><circle cx="88.0" cy="339.6" r="3.25" fill="#ffffff" stroke="#111" stroke-width="0.85"/><circle cx="103.4" cy="343.4" r="3.25" fill="#ffffff" stroke="#111" stroke-width="0.85"/><circle cx="95.6" cy="350.0" r="3.25" fill="#ffffff" stroke="#111" stroke-width="0.85"/><circle cx="115.0" cy="348.0" r="3.25" fill="#ffffff" stroke="#111" stroke-width="0.85"/><circle cx="140.4" cy="343.6" r="3.25" fill="#ffffff" stroke="#111" stroke-width="0.85"/><circle cx="119.0" cy="355.6" r="3.25" fill="#ffffff" stroke="#111" stroke-width="0.85"/><circle cx="128.6" cy="355.0" r="3.25" fill="#ffffff" stroke="#111" stroke-width="0.85"/><circle cx="86.6" cy="359.6" r="3.25" fill="#ffffff" stroke="#111" stroke-width="0.85"/><circle cx="89.0" cy="360.0" r="3.25" fill="#ffffff" stroke="#111" stroke-width="0.85"/><circle cx="100.0" cy="362.0" r="3.25" fill="#ffffff" stroke="#111" stroke-width="0.85"/><circle cx="101.6" cy="363.6" r="3.25" fill="#ffffff" stroke="#111" stroke-width="0.85"/><circle cx="93.0" cy="367.0" r="3.25" fill="#ffffff" stroke="#111" stroke-width="0.85"/><circle cx="112.0" cy="366.0" r="3.25" fill="#ffffff" stroke="#111" stroke-width="0.85"/><circle cx="113.0" cy="367.0" r="3.25" fill="#ffffff" stroke="#111" stroke-width="0.85"/><circle cx="118.0" cy="363.0" r="3.25" fill="#ffffff" stroke="#111" stroke-width="0.85"/><circle cx="121.4" cy="362.4" r="3.25" fill="#ffffff" stroke="#111" stroke-width="0.85"/><circle cx="115.0" cy="368.6" r="3.25" fill="#ffffff" stroke="#111" stroke-width="0.85"/><circle cx="124.6" cy="367.4" r="3.25" fill="#ffffff" stroke="#111" stroke-width="0.85"/><circle cx="136.6" cy="372.0" r="3.25" fill="#ffffff" stroke="#111" stroke-width="0.85"/><circle cx="88.0" cy="376.0" r="3.25" fill="#ffffff" stroke="#111" stroke-width="0.85"/><circle cx="118.0" cy="375.6" r="3.25" fill="#ffffff" stroke="#111" stroke-width="0.85"/><circle cx="121.4" cy="376.0" r="3.25" fill="#ffffff" stroke="#111" stroke-width="0.85"/><circle cx="96.4" cy="381.4" r="3.25" fill="#ffffff" stroke="#111" stroke-width="0.85"/><circle cx="108.4" cy="380.6" r="3.25" fill="#ffffff" stroke="#111" stroke-width="0.85"/><circle cx="126.0" cy="383.4" r="3.25" fill="#ffffff" stroke="#111" stroke-width="0.85"/><circle cx="137.6" cy="387.6" r="3.25" fill="#ffffff" stroke="#111" stroke-width="0.85"/><circle cx="149.6" cy="388.4" r="3.25" fill="#ffffff" stroke="#111" stroke-width="0.85"/><circle cx="162.6" cy="387.0" r="3.25" fill="#ffffff" stroke="#111" stroke-width="0.85"/><circle cx="160.4" cy="397.0" r="3.25" fill="#ffffff" stroke="#111" stroke-width="0.85"/><circle cx="151.0" cy="399.4" r="3.25" fill="#ffffff" stroke="#111" stroke-width="0.85"/><circle cx="137.0" cy="403.4" r="3.25" fill="#ffffff" stroke="#111" stroke-width="0.85"/><circle cx="149.4" cy="403.4" r="3.25" fill="#ffffff" stroke="#111" stroke-width="0.85"/><circle cx="214.0" cy="331.0" r="3.25" fill="#ffffff" stroke="#111" stroke-width="0.85"/><circle cx="203.0" cy="346.0" r="3.25" fill="#ffffff" stroke="#111" stroke-width="0.85"/><circle cx="208.0" cy="347.0" r="3.25" fill="#ffffff" stroke="#111" stroke-width="0.85"/><circle cx="207.6" cy="356.4" r="3.25" fill="#ffffff" stroke="#111" stroke-width="0.85"/><circle cx="129.4" cy="290.0" r="3.25" fill="#92d050" stroke="#111" stroke-width="0.85"/><circle cx="144.4" cy="297.0" r="3.25" fill="#92d050" stroke="#111" stroke-width="0.85"/><circle cx="117.0" cy="303.0" r="3.25" fill="#92d050" stroke="#111" stroke-width="0.85"/><circle cx="123.4" cy="304.4" r="3.25" fill="#92d050" stroke="#111" stroke-width="0.85"/><circle cx="194.4" cy="281.0" r="3.25" fill="#92d050" stroke="#111" stroke-width="0.85"/><circle cx="198.0" cy="286.0" r="3.25" fill="#92d050" stroke="#111" stroke-width="0.85"/><circle cx="201.4" cy="291.4" r="3.25" fill="#92d050" stroke="#111" stroke-width="0.85"/><circle cx="181.6" cy="309.0" r="3.25" fill="#92d050" stroke="#111" stroke-width="0.85"/><circle cx="190.4" cy="317.6" r="3.25" fill="#92d050" stroke="#111" stroke-width="0.85"/><circle cx="200.0" cy="321.4" r="3.25" fill="#92d050" stroke="#111" stroke-width="0.85"/><circle cx="204.4" cy="310.0" r="3.25" fill="#92d050" stroke="#111" stroke-width="0.85"/><circle cx="204.4" cy="316.0" r="3.25" fill="#92d050" stroke="#111" stroke-width="0.85"/><circle cx="217.8" cy="282.1" r="3.25" fill="#92d050" stroke="#111" stroke-width="0.85"/><circle cx="226.8" cy="283.7" r="3.25" fill="#92d050" stroke="#111" stroke-width="0.85"/><circle cx="253.1" cy="284.0" r="3.25" fill="#92d050" stroke="#111" stroke-width="0.85"/><circle cx="208.3" cy="288.8" r="3.25" fill="#92d050" stroke="#111" stroke-width="0.85"/><circle cx="210.7" cy="290.0" r="3.25" fill="#92d050" stroke="#111" stroke-width="0.85"/><circle cx="216.3" cy="289.2" r="3.25" fill="#92d050" stroke="#111" stroke-width="0.85"/><circle cx="221.6" cy="290.7" r="3.25" fill="#92d050" stroke="#111" stroke-width="0.85"/><circle cx="215.4" cy="297.3" r="3.25" fill="#92d050" stroke="#111" stroke-width="0.85"/><circle cx="218.2" cy="297.3" r="3.25" fill="#92d050" stroke="#111" stroke-width="0.85"/><circle cx="223.5" cy="296.3" r="3.25" fill="#92d050" stroke="#111" stroke-width="0.85"/><circle cx="225.8" cy="297.0" r="3.25" fill="#92d050" stroke="#111" stroke-width="0.85"/><circle cx="226.3" cy="300.6" r="3.25" fill="#92d050" stroke="#111" stroke-width="0.85"/><circle cx="245.3" cy="292.1" r="3.25" fill="#92d050" stroke="#111" stroke-width="0.85"/><circle cx="255.0" cy="294.9" r="3.25" fill="#92d050" stroke="#111" stroke-width="0.85"/><circle cx="247.2" cy="297.8" r="3.25" fill="#92d050" stroke="#111" stroke-width="0.85"/><circle cx="235.3" cy="303.5" r="3.25" fill="#92d050" stroke="#111" stroke-width="0.85"/><circle cx="241.2" cy="304.9" r="3.25" fill="#92d050" stroke="#111" stroke-width="0.85"/><circle cx="242.4" cy="310.6" r="3.25" fill="#92d050" stroke="#111" stroke-width="0.85"/><circle cx="245.3" cy="311.1" r="3.25" fill="#92d050" stroke="#111" stroke-width="0.85"/><circle cx="220.1" cy="313.0" r="3.25" fill="#92d050" stroke="#111" stroke-width="0.85"/><circle cx="214.9" cy="319.6" r="3.25" fill="#92d050" stroke="#111" stroke-width="0.85"/><circle cx="216.8" cy="318.6" r="3.25" fill="#92d050" stroke="#111" stroke-width="0.85"/><circle cx="213.5" cy="321.0" r="3.25" fill="#92d050" stroke="#111" stroke-width="0.85"/><circle cx="277.5" cy="289.1" r="3.25" fill="#92d050" stroke="#111" stroke-width="0.85"/><circle cx="292.5" cy="298.5" r="3.25" fill="#92d050" stroke="#111" stroke-width="0.85"/><circle cx="296.1" cy="300.7" r="3.25" fill="#92d050" stroke="#111" stroke-width="0.85"/><circle cx="279.2" cy="309.9" r="3.25" fill="#92d050" stroke="#111" stroke-width="0.85"/><circle cx="288.4" cy="309.4" r="3.25" fill="#92d050" stroke="#111" stroke-width="0.85"/><circle cx="291.0" cy="308.1" r="3.25" fill="#92d050" stroke="#111" stroke-width="0.85"/><circle cx="293.3" cy="312.5" r="3.25" fill="#92d050" stroke="#111" stroke-width="0.85"/><circle cx="288.7" cy="317.4" r="3.25" fill="#92d050" stroke="#111" stroke-width="0.85"/><circle cx="263.7" cy="314.4" r="3.25" fill="#92d050" stroke="#111" stroke-width="0.85"/><circle cx="279.8" cy="318.9" r="3.25" fill="#92d050" stroke="#111" stroke-width="0.85"/><circle cx="283.5" cy="321.0" r="3.25" fill="#92d050" stroke="#111" stroke-width="0.85"/><circle cx="267.8" cy="322.5" r="3.25" fill="#92d050" stroke="#111" stroke-width="0.85"/><circle cx="280.7" cy="328.7" r="3.25" fill="#92d050" stroke="#111" stroke-width="0.85"/><circle cx="283.9" cy="328.1" r="3.25" fill="#92d050" stroke="#111" stroke-width="0.85"/><circle cx="291.2" cy="330.5" r="3.25" fill="#92d050" stroke="#111" stroke-width="0.85"/><circle cx="262.7" cy="330.2" r="3.25" fill="#92d050" stroke="#111" stroke-width="0.85"/><circle cx="256.9" cy="329.6" r="3.25" fill="#92d050" stroke="#111" stroke-width="0.85"/><circle cx="269.4" cy="332.8" r="3.25" fill="#92d050" stroke="#111" stroke-width="0.85"/><circle cx="147.0" cy="333.0" r="3.25" fill="#92d050" stroke="#111" stroke-width="0.85"/><circle cx="183.4" cy="349.0" r="3.25" fill="#92d050" stroke="#111" stroke-width="0.85"/><circle cx="209.4" cy="335.4" r="3.25" fill="#92d050" stroke="#111" stroke-width="0.85"/><circle cx="255.0" cy="333.6" r="3.25" fill="#92d050" stroke="#111" stroke-width="0.85"/><circle cx="264.4" cy="340.0" r="3.25" fill="#92d050" stroke="#111" stroke-width="0.85"/><circle cx="288.0" cy="339.4" r="3.25" fill="#92d050" stroke="#111" stroke-width="0.85"/><circle cx="282.6" cy="341.4" r="3.25" fill="#92d050" stroke="#111" stroke-width="0.85"/><circle cx="284.4" cy="345.6" r="3.25" fill="#92d050" stroke="#111" stroke-width="0.85"/><circle cx="277.4" cy="353.0" r="3.25" fill="#92d050" stroke="#111" stroke-width="0.85"/><circle cx="289.4" cy="356.0" r="3.25" fill="#92d050" stroke="#111" stroke-width="0.85"/><circle cx="292.0" cy="353.6" r="3.25" fill="#92d050" stroke="#111" stroke-width="0.85"/><circle cx="255.4" cy="356.6" r="3.25" fill="#92d050" stroke="#111" stroke-width="0.85"/><circle cx="254.0" cy="357.4" r="3.25" fill="#92d050" stroke="#111" stroke-width="0.85"/><circle cx="260.4" cy="367.0" r="3.25" fill="#92d050" stroke="#111" stroke-width="0.85"/><circle cx="280.0" cy="362.4" r="3.25" fill="#92d050" stroke="#111" stroke-width="0.85"/><circle cx="278.0" cy="364.0" r="3.25" fill="#92d050" stroke="#111" stroke-width="0.85"/><circle cx="305.0" cy="376.4" r="3.25" fill="#92d050" stroke="#111" stroke-width="0.85"/><circle cx="294.6" cy="376.6" r="3.25" fill="#92d050" stroke="#111" stroke-width="0.85"/><circle cx="291.0" cy="378.0" r="3.25" fill="#92d050" stroke="#111" stroke-width="0.85"/><circle cx="285.6" cy="379.0" r="3.25" fill="#92d050" stroke="#111" stroke-width="0.85"/><circle cx="294.6" cy="384.4" r="3.25" fill="#92d050" stroke="#111" stroke-width="0.85"/><circle cx="280.6" cy="385.0" r="3.25" fill="#92d050" stroke="#111" stroke-width="0.85"/><circle cx="276.6" cy="387.4" r="3.25" fill="#92d050" stroke="#111" stroke-width="0.85"/><circle cx="273.0" cy="388.4" r="3.25" fill="#92d050" stroke="#111" stroke-width="0.85"/><circle cx="270.4" cy="388.0" r="3.25" fill="#92d050" stroke="#111" stroke-width="0.85"/><circle cx="264.4" cy="385.6" r="3.25" fill="#92d050" stroke="#111" stroke-width="0.85"/><circle cx="257.0" cy="385.0" r="3.25" fill="#92d050" stroke="#111" stroke-width="0.85"/><circle cx="250.4" cy="388.0" r="3.25" fill="#92d050" stroke="#111" stroke-width="0.85"/><circle cx="253.6" cy="391.6" r="3.25" fill="#92d050" stroke="#111" stroke-width="0.85"/><circle cx="261.0" cy="392.4" r="3.25" fill="#92d050" stroke="#111" stroke-width="0.85"/><circle cx="264.0" cy="391.6" r="3.25" fill="#92d050" stroke="#111" stroke-width="0.85"/><path d="M148.5 330.0h11M154.0 324.5v11" stroke="#000" stroke-width="2.2" fill="none"/><path d="M242.1 328.6h11M247.6 323.1v11" stroke="#000" stroke-width="2.2" fill="none"/><path d="M69.6 235.1V423.7H335.6" stroke="#000" stroke-width="1.1" fill="none"/><path d="M69.6 235.10h3.6" stroke="#000" stroke-width="1.1"/><text x="58.0" y="239.60" font-size="13" text-anchor="end" fill="#1a1a1a" stroke="#1a1a1a" stroke-width="0.25">0.20</text><path d="M69.6 282.25h3.6" stroke="#000" stroke-width="1.1"/><text x="58.0" y="286.75" font-size="13" text-anchor="end" fill="#1a1a1a" stroke="#1a1a1a" stroke-width="0.25">0.10</text><path d="M69.6 329.40h3.6" stroke="#000" stroke-width="1.1"/><text x="58.0" y="333.90" font-size="13" text-anchor="end" fill="#1a1a1a" stroke="#1a1a1a" stroke-width="0.25">0.00</text><path d="M69.6 376.55h3.6" stroke="#000" stroke-width="1.1"/><text x="58.0" y="381.05" font-size="13" text-anchor="end" fill="#1a1a1a" stroke="#1a1a1a" stroke-width="0.25">-0.10</text><path d="M69.6 423.70h3.6" stroke="#000" stroke-width="1.1"/><text x="58.0" y="428.20" font-size="13" text-anchor="end" fill="#1a1a1a" stroke="#1a1a1a" stroke-width="0.25">-0.20</text><path d="M158.27 423.7v-3.8" stroke="#000" stroke-width="1.1"/><text x="158.27" y="443.90" font-size="13" text-anchor="middle" fill="#1a1a1a" stroke="#1a1a1a" stroke-width="0.25">-0.05</text><path d="M246.93 423.7v-3.8" stroke="#000" stroke-width="1.1"/><text x="246.93" y="443.90" font-size="13" text-anchor="middle" fill="#1a1a1a" stroke="#1a1a1a" stroke-width="0.25">0.05</text><path d="M335.60 423.7v-3.8" stroke="#000" stroke-width="1.1"/><text x="335.60" y="443.90" font-size="13" text-anchor="middle" fill="#1a1a1a" stroke="#1a1a1a" stroke-width="0.25">0.15</text><text x="81.0" y="248.3" font-size="19.5" font-weight="bold" fill="#000">C</text></g><g><circle cx="487.2" cy="304.3" r="3.25" fill="#92d050" stroke="#111" stroke-width="0.85"/><circle cx="488.2" cy="306.2" r="3.25" fill="#92d050" stroke="#111" stroke-width="0.85"/><circle cx="498.1" cy="303.6" r="3.25" fill="#92d050" stroke="#111" stroke-width="0.85"/><circle cx="492.6" cy="311.3" r="3.25" fill="#92d050" stroke="#111" stroke-width="0.85"/><circle cx="501.4" cy="312.7" r="3.25" fill="#92d050" stroke="#111" stroke-width="0.85"/><circle cx="503.6" cy="309.1" r="3.25" fill="#92d050" stroke="#111" stroke-width="0.85"/><circle cx="509.8" cy="314.9" r="3.25" fill="#92d050" stroke="#111" stroke-width="0.85"/><circle cx="512.3" cy="314.2" r="3.25" fill="#92d050" stroke="#111" stroke-width="0.85"/><circle cx="555.5" cy="312.9" r="3.25" fill="#92d050" stroke="#111" stroke-width="0.85"/><circle cx="562.3" cy="314.6" r="3.25" fill="#92d050" stroke="#111" stroke-width="0.85"/><circle cx="569.5" cy="319.0" r="3.25" fill="#92d050" stroke="#111" stroke-width="0.85"/><circle cx="556.8" cy="319.9" r="3.25" fill="#92d050" stroke="#111" stroke-width="0.85"/><circle cx="549.8" cy="327.8" r="3.25" fill="#92d050" stroke="#111" stroke-width="0.85"/><circle cx="554.6" cy="327.3" r="3.25" fill="#92d050" stroke="#111" stroke-width="0.85"/><circle cx="555.5" cy="338.3" r="3.25" fill="#92d050" stroke="#111" stroke-width="0.85"/><circle cx="560.3" cy="337.6" r="3.25" fill="#92d050" stroke="#111" stroke-width="0.85"/><circle cx="564.3" cy="331.3" r="3.25" fill="#92d050" stroke="#111" stroke-width="0.85"/><circle cx="565.6" cy="324.3" r="3.25" fill="#92d050" stroke="#111" stroke-width="0.85"/><circle cx="525.0" cy="316.9" r="3.25" fill="#92d050" stroke="#111" stroke-width="0.85"/><circle cx="525.5" cy="323.0" r="3.25" fill="#92d050" stroke="#111" stroke-width="0.85"/><circle cx="517.9" cy="325.0" r="3.25" fill="#92d050" stroke="#111" stroke-width="0.85"/><circle cx="523.5" cy="328.1" r="3.25" fill="#92d050" stroke="#111" stroke-width="0.85"/><circle cx="523.0" cy="331.2" r="3.25" fill="#92d050" stroke="#111" stroke-width="0.85"/><circle cx="528.6" cy="327.6" r="3.25" fill="#92d050" stroke="#111" stroke-width="0.85"/><circle cx="530.7" cy="330.7" r="3.25" fill="#92d050" stroke="#111" stroke-width="0.85"/><circle cx="535.3" cy="320.9" r="3.25" fill="#92d050" stroke="#111" stroke-width="0.85"/><circle cx="533.7" cy="327.1" r="3.25" fill="#92d050" stroke="#111" stroke-width="0.85"/><circle cx="541.9" cy="329.1" r="3.25" fill="#92d050" stroke="#111" stroke-width="0.85"/><circle cx="536.8" cy="343.9" r="3.25" fill="#92d050" stroke="#111" stroke-width="0.85"/><circle cx="506.1" cy="343.9" r="3.25" fill="#92d050" stroke="#111" stroke-width="0.85"/><circle cx="514.3" cy="343.9" r="3.25" fill="#92d050" stroke="#111" stroke-width="0.85"/><circle cx="582.4" cy="303.6" r="3.25" fill="#92d050" stroke="#111" stroke-width="0.85"/><circle cx="629.4" cy="307.6" r="3.25" fill="#92d050" stroke="#111" stroke-width="0.85"/><circle cx="636.4" cy="302.0" r="3.25" fill="#92d050" stroke="#111" stroke-width="0.85"/><circle cx="468.5" cy="351.7" r="3.25" fill="#92d050" stroke="#111" stroke-width="0.85"/><circle cx="479.7" cy="357.8" r="3.25" fill="#92d050" stroke="#111" stroke-width="0.85"/><circle cx="491.8" cy="348.8" r="3.25" fill="#92d050" stroke="#111" stroke-width="0.85"/><circle cx="507.2" cy="346.6" r="3.25" fill="#92d050" stroke="#111" stroke-width="0.85"/><circle cx="514.5" cy="346.1" r="3.25" fill="#92d050" stroke="#111" stroke-width="0.85"/><circle cx="513.7" cy="361.9" r="3.25" fill="#92d050" stroke="#111" stroke-width="0.85"/><circle cx="524.7" cy="359.0" r="3.25" fill="#92d050" stroke="#111" stroke-width="0.85"/><circle cx="530.5" cy="361.2" r="3.25" fill="#92d050" stroke="#111" stroke-width="0.85"/><circle cx="536.4" cy="354.6" r="3.25" fill="#92d050" stroke="#111" stroke-width="0.85"/><circle cx="526.1" cy="369.2" r="3.25" fill="#92d050" stroke="#111" stroke-width="0.85"/><circle cx="553.0" cy="355.0" r="3.25" fill="#92d050" stroke="#111" stroke-width="0.85"/><circle cx="562.4" cy="358.4" r="3.25" fill="#92d050" stroke="#111" stroke-width="0.85"/><circle cx="581.0" cy="329.0" r="3.25" fill="#92d050" stroke="#111" stroke-width="0.85"/><circle cx="584.0" cy="327.0" r="3.25" fill="#92d050" stroke="#111" stroke-width="0.85"/><circle cx="587.0" cy="326.4" r="3.25" fill="#92d050" stroke="#111" stroke-width="0.85"/><circle cx="585.0" cy="331.0" r="3.25" fill="#92d050" stroke="#111" stroke-width="0.85"/><circle cx="583.0" cy="333.0" r="3.25" fill="#92d050" stroke="#111" stroke-width="0.85"/><circle cx="580.0" cy="332.0" r="3.25" fill="#92d050" stroke="#111" stroke-width="0.85"/><circle cx="604.6" cy="323.6" r="3.25" fill="#92d050" stroke="#111" stroke-width="0.85"/><circle cx="625.0" cy="326.4" r="3.25" fill="#92d050" stroke="#111" stroke-width="0.85"/><circle cx="588.0" cy="336.4" r="3.25" fill="#92d050" stroke="#111" stroke-width="0.85"/><circle cx="593.4" cy="336.0" r="3.25" fill="#92d050" stroke="#111" stroke-width="0.85"/><circle cx="598.0" cy="337.6" r="3.25" fill="#92d050" stroke="#111" stroke-width="0.85"/><circle cx="582.0" cy="359.6" r="3.25" fill="#92d050" stroke="#111" stroke-width="0.85"/><circle cx="590.0" cy="363.6" r="3.25" fill="#92d050" stroke="#111" stroke-width="0.85"/><circle cx="592.4" cy="364.4" r="3.25" fill="#92d050" stroke="#111" stroke-width="0.85"/><circle cx="587.6" cy="368.0" r="3.25" fill="#92d050" stroke="#111" stroke-width="0.85"/><circle cx="567.3" cy="310.5" r="3.25" fill="#808080" stroke="#111" stroke-width="0.85"/><circle cx="552.0" cy="321.2" r="3.25" fill="#808080" stroke="#111" stroke-width="0.85"/><circle cx="560.3" cy="321.2" r="3.25" fill="#808080" stroke="#111" stroke-width="0.85"/><circle cx="565.8" cy="319.9" r="3.25" fill="#808080" stroke="#111" stroke-width="0.85"/><circle cx="550.3" cy="334.3" r="3.25" fill="#808080" stroke="#111" stroke-width="0.85"/><circle cx="565.6" cy="337.2" r="3.25" fill="#808080" stroke="#111" stroke-width="0.85"/><circle cx="573.9" cy="328.7" r="3.25" fill="#808080" stroke="#111" stroke-width="0.85"/><circle cx="545.4" cy="340.9" r="3.25" fill="#808080" stroke="#111" stroke-width="0.85"/><circle cx="521.5" cy="319.9" r="3.25" fill="#808080" stroke="#111" stroke-width="0.85"/><circle cx="644.6" cy="318.6" r="3.25" fill="#808080" stroke="#111" stroke-width="0.85"/><circle cx="652.4" cy="316.0" r="3.25" fill="#808080" stroke="#111" stroke-width="0.85"/><circle cx="458.7" cy="353.4" r="3.25" fill="#808080" stroke="#111" stroke-width="0.85"/><circle cx="465.5" cy="353.1" r="3.25" fill="#808080" stroke="#111" stroke-width="0.85"/><circle cx="485.3" cy="353.9" r="3.25" fill="#808080" stroke="#111" stroke-width="0.85"/><circle cx="493.3" cy="352.8" r="3.25" fill="#808080" stroke="#111" stroke-width="0.85"/><circle cx="490.4" cy="359.7" r="3.25" fill="#808080" stroke="#111" stroke-width="0.85"/><circle cx="499.1" cy="349.5" r="3.25" fill="#808080" stroke="#111" stroke-width="0.85"/><circle cx="505.7" cy="354.6" r="3.25" fill="#808080" stroke="#111" stroke-width="0.85"/><circle cx="494.0" cy="368.5" r="3.25" fill="#808080" stroke="#111" stroke-width="0.85"/><circle cx="503.9" cy="366.7" r="3.25" fill="#808080" stroke="#111" stroke-width="0.85"/><circle cx="508.6" cy="363.4" r="3.25" fill="#808080" stroke="#111" stroke-width="0.85"/><circle cx="513.7" cy="365.5" r="3.25" fill="#808080" stroke="#111" stroke-width="0.85"/><circle cx="517.4" cy="369.2" r="3.25" fill="#808080" stroke="#111" stroke-width="0.85"/><circle cx="526.4" cy="356.1" r="3.25" fill="#808080" stroke="#111" stroke-width="0.85"/><circle cx="527.3" cy="366.3" r="3.25" fill="#808080" stroke="#111" stroke-width="0.85"/><circle cx="565.0" cy="350.0" r="3.25" fill="#808080" stroke="#111" stroke-width="0.85"/><circle cx="546.0" cy="356.4" r="3.25" fill="#808080" stroke="#111" stroke-width="0.85"/><circle cx="544.0" cy="356.0" r="3.25" fill="#808080" stroke="#111" stroke-width="0.85"/><circle cx="562.4" cy="368.6" r="3.25" fill="#808080" stroke="#111" stroke-width="0.85"/><circle cx="573.4" cy="369.0" r="3.25" fill="#808080" stroke="#111" stroke-width="0.85"/><circle cx="575.0" cy="328.4" r="3.25" fill="#808080" stroke="#111" stroke-width="0.85"/><circle cx="578.0" cy="330.0" r="3.25" fill="#808080" stroke="#111" stroke-width="0.85"/><circle cx="597.4" cy="328.4" r="3.25" fill="#808080" stroke="#111" stroke-width="0.85"/><circle cx="594.4" cy="342.0" r="3.25" fill="#808080" stroke="#111" stroke-width="0.85"/><circle cx="603.0" cy="335.6" r="3.25" fill="#808080" stroke="#111" stroke-width="0.85"/><circle cx="603.6" cy="339.6" r="3.25" fill="#808080" stroke="#111" stroke-width="0.85"/><circle cx="612.6" cy="345.0" r="3.25" fill="#808080" stroke="#111" stroke-width="0.85"/><circle cx="624.4" cy="342.0" r="3.25" fill="#808080" stroke="#111" stroke-width="0.85"/><circle cx="629.6" cy="340.6" r="3.25" fill="#808080" stroke="#111" stroke-width="0.85"/><circle cx="636.2" cy="346.4" r="3.25" fill="#808080" stroke="#111" stroke-width="0.85"/><circle cx="644.2" cy="346.6" r="3.25" fill="#808080" stroke="#111" stroke-width="0.85"/><circle cx="658.0" cy="348.4" r="3.25" fill="#808080" stroke="#111" stroke-width="0.85"/><circle cx="640.0" cy="353.4" r="3.25" fill="#808080" stroke="#111" stroke-width="0.85"/><circle cx="638.4" cy="358.6" r="3.25" fill="#808080" stroke="#111" stroke-width="0.85"/><circle cx="644.0" cy="357.0" r="3.25" fill="#808080" stroke="#111" stroke-width="0.85"/><circle cx="652.6" cy="358.6" r="3.25" fill="#808080" stroke="#111" stroke-width="0.85"/><circle cx="646.4" cy="365.0" r="3.25" fill="#808080" stroke="#111" stroke-width="0.85"/><circle cx="663.4" cy="362.0" r="3.25" fill="#808080" stroke="#111" stroke-width="0.85"/><circle cx="626.2" cy="358.4" r="3.25" fill="#808080" stroke="#111" stroke-width="0.85"/><circle cx="613.4" cy="360.4" r="3.25" fill="#808080" stroke="#111" stroke-width="0.85"/><circle cx="601.0" cy="358.4" r="3.25" fill="#808080" stroke="#111" stroke-width="0.85"/><circle cx="591.6" cy="350.0" r="3.25" fill="#808080" stroke="#111" stroke-width="0.85"/><circle cx="587.6" cy="354.4" r="3.25" fill="#808080" stroke="#111" stroke-width="0.85"/><circle cx="580.0" cy="348.4" r="3.25" fill="#808080" stroke="#111" stroke-width="0.85"/><circle cx="577.0" cy="350.4" r="3.25" fill="#808080" stroke="#111" stroke-width="0.85"/><circle cx="575.0" cy="354.6" r="3.25" fill="#808080" stroke="#111" stroke-width="0.85"/><circle cx="576.0" cy="359.0" r="3.25" fill="#808080" stroke="#111" stroke-width="0.85"/><circle cx="598.6" cy="371.0" r="3.25" fill="#808080" stroke="#111" stroke-width="0.85"/><circle cx="604.4" cy="372.0" r="3.25" fill="#808080" stroke="#111" stroke-width="0.85"/><circle cx="472.6" cy="287.6" r="3.25" fill="#ff3300" stroke="#111" stroke-width="0.85"/><circle cx="485.3" cy="291.6" r="3.25" fill="#ff3300" stroke="#111" stroke-width="0.85"/><circle cx="492.3" cy="290.5" r="3.25" fill="#ff3300" stroke="#111" stroke-width="0.85"/><circle cx="487.5" cy="294.9" r="3.25" fill="#ff3300" stroke="#111" stroke-width="0.85"/><circle cx="491.9" cy="294.5" r="3.25" fill="#ff3300" stroke="#111" stroke-width="0.85"/><circle cx="501.0" cy="297.4" r="3.25" fill="#ff3300" stroke="#111" stroke-width="0.85"/><circle cx="482.8" cy="302.2" r="3.25" fill="#ff3300" stroke="#111" stroke-width="0.85"/><circle cx="494.5" cy="299.6" r="3.25" fill="#ff3300" stroke="#111" stroke-width="0.85"/><circle cx="491.5" cy="302.5" r="3.25" fill="#ff3300" stroke="#111" stroke-width="0.85"/><circle cx="494.1" cy="307.6" r="3.25" fill="#ff3300" stroke="#111" stroke-width="0.85"/><circle cx="497.0" cy="312.0" r="3.25" fill="#ff3300" stroke="#111" stroke-width="0.85"/><circle cx="508.0" cy="309.5" r="3.25" fill="#ff3300" stroke="#111" stroke-width="0.85"/><circle cx="518.2" cy="310.5" r="3.25" fill="#ff3300" stroke="#111" stroke-width="0.85"/><circle cx="559.0" cy="329.3" r="3.25" fill="#ff3300" stroke="#111" stroke-width="0.85"/><circle cx="563.4" cy="327.8" r="3.25" fill="#ff3300" stroke="#111" stroke-width="0.85"/><circle cx="556.2" cy="333.7" r="3.25" fill="#ff3300" stroke="#111" stroke-width="0.85"/><circle cx="541.9" cy="311.8" r="3.25" fill="#ff3300" stroke="#111" stroke-width="0.85"/><circle cx="538.8" cy="337.3" r="3.25" fill="#ff3300" stroke="#111" stroke-width="0.85"/><circle cx="539.9" cy="341.9" r="3.25" fill="#ff3300" stroke="#111" stroke-width="0.85"/><circle cx="551.4" cy="250.4" r="3.25" fill="#ff3300" stroke="#111" stroke-width="0.85"/><circle cx="552.6" cy="267.0" r="3.25" fill="#ff3300" stroke="#111" stroke-width="0.85"/><circle cx="554.0" cy="266.6" r="3.25" fill="#ff3300" stroke="#111" stroke-width="0.85"/><circle cx="557.0" cy="268.0" r="3.25" fill="#ff3300" stroke="#111" stroke-width="0.85"/><circle cx="544.0" cy="276.4" r="3.25" fill="#ff3300" stroke="#111" stroke-width="0.85"/><circle cx="553.6" cy="275.6" r="3.25" fill="#ff3300" stroke="#111" stroke-width="0.85"/><circle cx="554.4" cy="280.4" r="3.25" fill="#ff3300" stroke="#111" stroke-width="0.85"/><circle cx="558.0" cy="279.0" r="3.25" fill="#ff3300" stroke="#111" stroke-width="0.85"/><circle cx="544.0" cy="285.6" r="3.25" fill="#ff3300" stroke="#111" stroke-width="0.85"/><circle cx="542.0" cy="300.4" r="3.25" fill="#ff3300" stroke="#111" stroke-width="0.85"/><circle cx="553.6" cy="298.4" r="3.25" fill="#ff3300" stroke="#111" stroke-width="0.85"/><circle cx="559.4" cy="295.6" r="3.25" fill="#ff3300" stroke="#111" stroke-width="0.85"/><circle cx="594.0" cy="288.4" r="3.25" fill="#ff3300" stroke="#111" stroke-width="0.85"/><circle cx="610.0" cy="284.0" r="3.25" fill="#ff3300" stroke="#111" stroke-width="0.85"/><circle cx="614.6" cy="276.4" r="3.25" fill="#ff3300" stroke="#111" stroke-width="0.85"/><circle cx="603.4" cy="295.4" r="3.25" fill="#ff3300" stroke="#111" stroke-width="0.85"/><circle cx="644.6" cy="295.4" r="3.25" fill="#ff3300" stroke="#111" stroke-width="0.85"/><circle cx="442.9" cy="355.3" r="3.25" fill="#ff3300" stroke="#111" stroke-width="0.85"/><circle cx="467.0" cy="347.0" r="3.25" fill="#ff3300" stroke="#111" stroke-width="0.85"/><circle cx="461.9" cy="357.8" r="3.25" fill="#ff3300" stroke="#111" stroke-width="0.85"/><circle cx="471.4" cy="356.1" r="3.25" fill="#ff3300" stroke="#111" stroke-width="0.85"/><circle cx="478.2" cy="350.5" r="3.25" fill="#ff3300" stroke="#111" stroke-width="0.85"/><circle cx="481.6" cy="348.0" r="3.25" fill="#ff3300" stroke="#111" stroke-width="0.85"/><circle cx="482.0" cy="353.1" r="3.25" fill="#ff3300" stroke="#111" stroke-width="0.85"/><circle cx="534.6" cy="359.7" r="3.25" fill="#ff3300" stroke="#111" stroke-width="0.85"/><circle cx="617.6" cy="339.6" r="3.25" fill="#ff3300" stroke="#111" stroke-width="0.85"/><path d="M516.5 301.0h11M522.0 295.5v11" stroke="#000" stroke-width="2.2" fill="none"/><path d="M530.3 332.2h11M535.8 326.7v11" stroke="#000" stroke-width="2.2" fill="none"/><path d="M549.5 350.0h11M555.0 344.5v11" stroke="#000" stroke-width="2.2" fill="none"/><path d="M406.6 235.1V423.7H672.6" stroke="#000" stroke-width="1.1" fill="none"/><path d="M406.6 235.10h3.6" stroke="#000" stroke-width="1.1"/><text x="395.0" y="239.60" font-size="13" text-anchor="end" fill="#1a1a1a" stroke="#1a1a1a" stroke-width="0.25">0.20</text><path d="M406.6 282.25h3.6" stroke="#000" stroke-width="1.1"/><text x="395.0" y="286.75" font-size="13" text-anchor="end" fill="#1a1a1a" stroke="#1a1a1a" stroke-width="0.25">0.10</text><path d="M406.6 329.40h3.6" stroke="#000" stroke-width="1.1"/><text x="395.0" y="333.90" font-size="13" text-anchor="end" fill="#1a1a1a" stroke="#1a1a1a" stroke-width="0.25">0.00</text><path d="M406.6 376.55h3.6" stroke="#000" stroke-width="1.1"/><text x="395.0" y="381.05" font-size="13" text-anchor="end" fill="#1a1a1a" stroke="#1a1a1a" stroke-width="0.25">-0.10</text><path d="M406.6 423.70h3.6" stroke="#000" stroke-width="1.1"/><text x="395.0" y="428.20" font-size="13" text-anchor="end" fill="#1a1a1a" stroke="#1a1a1a" stroke-width="0.25">-0.20</text><path d="M495.27 423.7v-3.8" stroke="#000" stroke-width="1.1"/><text x="495.27" y="443.90" font-size="13" text-anchor="middle" fill="#1a1a1a" stroke="#1a1a1a" stroke-width="0.25">-0.05</text><path d="M583.93 423.7v-3.8" stroke="#000" stroke-width="1.1"/><text x="583.93" y="443.90" font-size="13" text-anchor="middle" fill="#1a1a1a" stroke="#1a1a1a" stroke-width="0.25">0.05</text><path d="M672.60 423.7v-3.8" stroke="#000" stroke-width="1.1"/><text x="672.60" y="443.90" font-size="13" text-anchor="middle" fill="#1a1a1a" stroke="#1a1a1a" stroke-width="0.25">0.15</text><text x="422.0" y="248.3" font-size="19.5" font-weight="bold" fill="#000">D</text></g><g><circle cx="155.0" cy="505.6" r="3.25" fill="#ffffff" stroke="#111" stroke-width="0.85"/><circle cx="122.0" cy="513.4" r="3.25" fill="#ffffff" stroke="#111" stroke-width="0.85"/><circle cx="145.0" cy="527.4" r="3.25" fill="#ffffff" stroke="#111" stroke-width="0.85"/><circle cx="150.6" cy="536.0" r="3.25" fill="#ffffff" stroke="#111" stroke-width="0.85"/><circle cx="122.0" cy="546.0" r="3.25" fill="#ffffff" stroke="#111" stroke-width="0.85"/><circle cx="142.0" cy="549.0" r="3.25" fill="#ffffff" stroke="#111" stroke-width="0.85"/><circle cx="192.7" cy="497.7" r="3.25" fill="#ffffff" stroke="#111" stroke-width="0.85"/><circle cx="200.9" cy="501.2" r="3.25" fill="#ffffff" stroke="#111" stroke-width="0.85"/><circle cx="201.9" cy="504.3" r="3.25" fill="#ffffff" stroke="#111" stroke-width="0.85"/><circle cx="200.4" cy="505.3" r="3.25" fill="#ffffff" stroke="#111" stroke-width="0.85"/><circle cx="222.3" cy="508.4" r="3.25" fill="#ffffff" stroke="#111" stroke-width="0.85"/><circle cx="215.2" cy="515.5" r="3.25" fill="#ffffff" stroke="#111" stroke-width="0.85"/><circle cx="185.5" cy="513.0" r="3.25" fill="#ffffff" stroke="#111" stroke-width="0.85"/><circle cx="176.9" cy="515.0" r="3.25" fill="#ffffff" stroke="#111" stroke-width="0.85"/><circle cx="177.2" cy="519.1" r="3.25" fill="#ffffff" stroke="#111" stroke-width="0.85"/><circle cx="161.5" cy="497.7" r="3.25" fill="#ffffff" stroke="#111" stroke-width="0.85"/><circle cx="162.0" cy="505.3" r="3.25" fill="#ffffff" stroke="#111" stroke-width="0.85"/><circle cx="167.2" cy="505.3" r="3.25" fill="#ffffff" stroke="#111" stroke-width="0.85"/><circle cx="171.2" cy="506.3" r="3.25" fill="#ffffff" stroke="#111" stroke-width="0.85"/><circle cx="175.8" cy="536.0" r="3.25" fill="#ffffff" stroke="#111" stroke-width="0.85"/><circle cx="182.0" cy="538.0" r="3.25" fill="#ffffff" stroke="#111" stroke-width="0.85"/><circle cx="194.7" cy="541.6" r="3.25" fill="#ffffff" stroke="#111" stroke-width="0.85"/><circle cx="192.7" cy="544.2" r="3.25" fill="#ffffff" stroke="#111" stroke-width="0.85"/><circle cx="166.1" cy="545.2" r="3.25" fill="#ffffff" stroke="#111" stroke-width="0.85"/><circle cx="210.1" cy="553.4" r="3.25" fill="#ffffff" stroke="#111" stroke-width="0.85"/><circle cx="212.6" cy="553.4" r="3.25" fill="#ffffff" stroke="#111" stroke-width="0.85"/><circle cx="167.7" cy="558.0" r="3.25" fill="#ffffff" stroke="#111" stroke-width="0.85"/><circle cx="238.6" cy="497.4" r="3.25" fill="#ffffff" stroke="#111" stroke-width="0.85"/><circle cx="244.4" cy="507.0" r="3.25" fill="#ffffff" stroke="#111" stroke-width="0.85"/><circle cx="247.0" cy="513.4" r="3.25" fill="#ffffff" stroke="#111" stroke-width="0.85"/><circle cx="133.4" cy="557.4" r="3.25" fill="#ffffff" stroke="#111" stroke-width="0.85"/><circle cx="157.6" cy="558.6" r="3.25" fill="#ffffff" stroke="#111" stroke-width="0.85"/><circle cx="141.0" cy="562.6" r="3.25" fill="#ffffff" stroke="#111" stroke-width="0.85"/><circle cx="148.0" cy="567.6" r="3.25" fill="#ffffff" stroke="#111" stroke-width="0.85"/><circle cx="161.0" cy="562.6" r="3.25" fill="#ffffff" stroke="#111" stroke-width="0.85"/><circle cx="163.0" cy="564.0" r="3.25" fill="#ffffff" stroke="#111" stroke-width="0.85"/><circle cx="161.4" cy="570.0" r="3.25" fill="#ffffff" stroke="#111" stroke-width="0.85"/><circle cx="161.4" cy="574.0" r="3.25" fill="#ffffff" stroke="#111" stroke-width="0.85"/><circle cx="161.4" cy="577.4" r="3.25" fill="#ffffff" stroke="#111" stroke-width="0.85"/><circle cx="167.4" cy="573.0" r="3.25" fill="#ffffff" stroke="#111" stroke-width="0.85"/><circle cx="177.0" cy="570.6" r="3.25" fill="#ffffff" stroke="#111" stroke-width="0.85"/><circle cx="125.4" cy="572.4" r="3.25" fill="#ffffff" stroke="#111" stroke-width="0.85"/><circle cx="131.4" cy="576.0" r="3.25" fill="#ffffff" stroke="#111" stroke-width="0.85"/><circle cx="139.0" cy="573.6" r="3.25" fill="#ffffff" stroke="#111" stroke-width="0.85"/><circle cx="135.0" cy="579.4" r="3.25" fill="#ffffff" stroke="#111" stroke-width="0.85"/><circle cx="125.4" cy="583.6" r="3.25" fill="#ffffff" stroke="#111" stroke-width="0.85"/><circle cx="135.6" cy="585.4" r="3.25" fill="#ffffff" stroke="#111" stroke-width="0.85"/><circle cx="140.0" cy="587.0" r="3.25" fill="#ffffff" stroke="#111" stroke-width="0.85"/><circle cx="146.6" cy="583.4" r="3.25" fill="#ffffff" stroke="#111" stroke-width="0.85"/><circle cx="152.6" cy="584.4" r="3.25" fill="#ffffff" stroke="#111" stroke-width="0.85"/><circle cx="156.4" cy="587.4" r="3.25" fill="#ffffff" stroke="#111" stroke-width="0.85"/><circle cx="117.4" cy="589.4" r="3.25" fill="#ffffff" stroke="#111" stroke-width="0.85"/><circle cx="123.4" cy="589.4" r="3.25" fill="#ffffff" stroke="#111" stroke-width="0.85"/><circle cx="132.0" cy="590.4" r="3.25" fill="#ffffff" stroke="#111" stroke-width="0.85"/><circle cx="139.0" cy="592.0" r="3.25" fill="#ffffff" stroke="#111" stroke-width="0.85"/><circle cx="140.6" cy="590.0" r="3.25" fill="#ffffff" stroke="#111" stroke-width="0.85"/><circle cx="144.6" cy="588.4" r="3.25" fill="#ffffff" stroke="#111" stroke-width="0.85"/><circle cx="146.0" cy="589.0" r="3.25" fill="#ffffff" stroke="#111" stroke-width="0.85"/><circle cx="109.0" cy="595.6" r="3.25" fill="#ffffff" stroke="#111" stroke-width="0.85"/><circle cx="127.0" cy="602.4" r="3.25" fill="#ffffff" stroke="#111" stroke-width="0.85"/><circle cx="132.4" cy="607.4" r="3.25" fill="#ffffff" stroke="#111" stroke-width="0.85"/><circle cx="140.0" cy="605.0" r="3.25" fill="#ffffff" stroke="#111" stroke-width="0.85"/><circle cx="145.0" cy="601.4" r="3.25" fill="#ffffff" stroke="#111" stroke-width="0.85"/><circle cx="147.6" cy="608.0" r="3.25" fill="#ffffff" stroke="#111" stroke-width="0.85"/><circle cx="149.4" cy="612.6" r="3.25" fill="#ffffff" stroke="#111" stroke-width="0.85"/><circle cx="150.0" cy="614.6" r="3.25" fill="#ffffff" stroke="#111" stroke-width="0.85"/><circle cx="156.4" cy="614.4" r="3.25" fill="#ffffff" stroke="#111" stroke-width="0.85"/><circle cx="160.6" cy="605.6" r="3.25" fill="#ffffff" stroke="#111" stroke-width="0.85"/><circle cx="169.6" cy="605.4" r="3.25" fill="#ffffff" stroke="#111" stroke-width="0.85"/><circle cx="171.4" cy="596.4" r="3.25" fill="#ffffff" stroke="#111" stroke-width="0.85"/><circle cx="175.4" cy="581.0" r="3.25" fill="#ffffff" stroke="#111" stroke-width="0.85"/><circle cx="175.4" cy="581.0" r="3.25" fill="#ffffff" stroke="#111" stroke-width="0.85"/><circle cx="175.4" cy="581.0" r="3.25" fill="#ffffff" stroke="#111" stroke-width="0.85"/><circle cx="190.4" cy="580.6" r="3.25" fill="#ffffff" stroke="#111" stroke-width="0.85"/><circle cx="190.4" cy="580.6" r="3.25" fill="#ffffff" stroke="#111" stroke-width="0.85"/><circle cx="190.4" cy="580.6" r="3.25" fill="#ffffff" stroke="#111" stroke-width="0.85"/><circle cx="198.0" cy="581.0" r="3.25" fill="#ffffff" stroke="#111" stroke-width="0.85"/><circle cx="183.0" cy="592.0" r="3.25" fill="#ffffff" stroke="#111" stroke-width="0.85"/><circle cx="190.4" cy="591.6" r="3.25" fill="#ffffff" stroke="#111" stroke-width="0.85"/><circle cx="192.0" cy="592.6" r="3.25" fill="#ffffff" stroke="#111" stroke-width="0.85"/><circle cx="193.0" cy="603.4" r="3.25" fill="#ffffff" stroke="#111" stroke-width="0.85"/><circle cx="205.0" cy="593.0" r="3.25" fill="#ffffff" stroke="#111" stroke-width="0.85"/><circle cx="204.0" cy="555.5" r="3.25" fill="#ffffff" stroke="#111" stroke-width="0.85"/><circle cx="205.6" cy="592.6" r="3.25" fill="#ffffff" stroke="#111" stroke-width="0.85"/><circle cx="217.6" cy="599.0" r="3.25" fill="#ffffff" stroke="#111" stroke-width="0.85"/><circle cx="220.0" cy="611.0" r="3.25" fill="#ffffff" stroke="#111" stroke-width="0.85"/><circle cx="234.6" cy="596.0" r="3.25" fill="#ffffff" stroke="#111" stroke-width="0.85"/><circle cx="245.6" cy="614.6" r="3.25" fill="#ffffff" stroke="#111" stroke-width="0.85"/><circle cx="261.6" cy="588.4" r="3.25" fill="#ffffff" stroke="#111" stroke-width="0.85"/><circle cx="176.6" cy="485.6" r="3.25" fill="#92d050" stroke="#111" stroke-width="0.85"/><circle cx="157.0" cy="505.6" r="3.25" fill="#92d050" stroke="#111" stroke-width="0.85"/><circle cx="152.4" cy="513.4" r="3.25" fill="#92d050" stroke="#111" stroke-width="0.85"/><circle cx="156.6" cy="536.0" r="3.25" fill="#92d050" stroke="#111" stroke-width="0.85"/><circle cx="223.4" cy="491.5" r="3.25" fill="#92d050" stroke="#111" stroke-width="0.85"/><circle cx="181.5" cy="500.0" r="3.25" fill="#92d050" stroke="#111" stroke-width="0.85"/><circle cx="190.7" cy="498.7" r="3.25" fill="#92d050" stroke="#111" stroke-width="0.85"/><circle cx="219.8" cy="500.2" r="3.25" fill="#92d050" stroke="#111" stroke-width="0.85"/><circle cx="186.4" cy="505.8" r="3.25" fill="#92d050" stroke="#111" stroke-width="0.85"/><circle cx="216.2" cy="506.3" r="3.25" fill="#92d050" stroke="#111" stroke-width="0.85"/><circle cx="212.6" cy="507.4" r="3.25" fill="#92d050" stroke="#111" stroke-width="0.85"/><circle cx="210.1" cy="508.9" r="3.25" fill="#92d050" stroke="#111" stroke-width="0.85"/><circle cx="189.1" cy="512.5" r="3.25" fill="#92d050" stroke="#111" stroke-width="0.85"/><circle cx="165.6" cy="517.1" r="3.25" fill="#92d050" stroke="#111" stroke-width="0.85"/><circle cx="206.0" cy="516.1" r="3.25" fill="#92d050" stroke="#111" stroke-width="0.85"/><circle cx="202.4" cy="522.2" r="3.25" fill="#92d050" stroke="#111" stroke-width="0.85"/><circle cx="203.4" cy="524.2" r="3.25" fill="#92d050" stroke="#111" stroke-width="0.85"/><circle cx="189.1" cy="525.3" r="3.25" fill="#92d050" stroke="#111" stroke-width="0.85"/><circle cx="196.3" cy="528.8" r="3.25" fill="#92d050" stroke="#111" stroke-width="0.85"/><circle cx="216.7" cy="526.3" r="3.25" fill="#92d050" stroke="#111" stroke-width="0.85"/><circle cx="207.5" cy="532.7" r="3.25" fill="#92d050" stroke="#111" stroke-width="0.85"/><circle cx="206.5" cy="539.0" r="3.25" fill="#92d050" stroke="#111" stroke-width="0.85"/><circle cx="183.0" cy="533.9" r="3.25" fill="#92d050" stroke="#111" stroke-width="0.85"/><circle cx="186.1" cy="533.9" r="3.25" fill="#92d050" stroke="#111" stroke-width="0.85"/><circle cx="192.2" cy="537.0" r="3.25" fill="#92d050" stroke="#111" stroke-width="0.85"/><circle cx="188.6" cy="541.6" r="3.25" fill="#92d050" stroke="#111" stroke-width="0.85"/><circle cx="201.4" cy="554.2" r="3.25" fill="#92d050" stroke="#111" stroke-width="0.85"/><circle cx="248.0" cy="502.4" r="3.25" fill="#92d050" stroke="#111" stroke-width="0.85"/><circle cx="249.4" cy="510.6" r="3.25" fill="#92d050" stroke="#111" stroke-width="0.85"/><circle cx="242.4" cy="517.0" r="3.25" fill="#92d050" stroke="#111" stroke-width="0.85"/><circle cx="262.4" cy="507.0" r="3.25" fill="#92d050" stroke="#111" stroke-width="0.85"/><circle cx="255.6" cy="526.4" r="3.25" fill="#92d050" stroke="#111" stroke-width="0.85"/><circle cx="266.0" cy="532.6" r="3.25" fill="#92d050" stroke="#111" stroke-width="0.85"/><circle cx="305.4" cy="528.0" r="3.25" fill="#92d050" stroke="#111" stroke-width="0.85"/><circle cx="241.4" cy="544.0" r="3.25" fill="#92d050" stroke="#111" stroke-width="0.85"/><circle cx="238.6" cy="556.0" r="3.25" fill="#92d050" stroke="#111" stroke-width="0.85"/><circle cx="252.4" cy="556.0" r="3.25" fill="#92d050" stroke="#111" stroke-width="0.85"/><circle cx="257.0" cy="555.4" r="3.25" fill="#92d050" stroke="#111" stroke-width="0.85"/><circle cx="272.4" cy="554.0" r="3.25" fill="#92d050" stroke="#111" stroke-width="0.85"/><circle cx="285.4" cy="551.0" r="3.25" fill="#92d050" stroke="#111" stroke-width="0.85"/><circle cx="289.4" cy="549.4" r="3.25" fill="#92d050" stroke="#111" stroke-width="0.85"/><circle cx="282.6" cy="555.4" r="3.25" fill="#92d050" stroke="#111" stroke-width="0.85"/><circle cx="171.4" cy="566.6" r="3.25" fill="#92d050" stroke="#111" stroke-width="0.85"/><circle cx="194.6" cy="588.4" r="3.25" fill="#92d050" stroke="#111" stroke-width="0.85"/><circle cx="248.4" cy="563.4" r="3.25" fill="#92d050" stroke="#111" stroke-width="0.85"/><circle cx="210.4" cy="571.0" r="3.25" fill="#92d050" stroke="#111" stroke-width="0.85"/><circle cx="213.0" cy="579.0" r="3.25" fill="#92d050" stroke="#111" stroke-width="0.85"/><circle cx="221.6" cy="579.0" r="3.25" fill="#92d050" stroke="#111" stroke-width="0.85"/><circle cx="206.6" cy="587.4" r="3.25" fill="#92d050" stroke="#111" stroke-width="0.85"/><circle cx="242.6" cy="585.4" r="3.25" fill="#92d050" stroke="#111" stroke-width="0.85"/><circle cx="248.0" cy="590.6" r="3.25" fill="#92d050" stroke="#111" stroke-width="0.85"/><circle cx="234.0" cy="589.4" r="3.25" fill="#92d050" stroke="#111" stroke-width="0.85"/><circle cx="230.6" cy="593.0" r="3.25" fill="#92d050" stroke="#111" stroke-width="0.85"/><circle cx="224.4" cy="602.0" r="3.25" fill="#92d050" stroke="#111" stroke-width="0.85"/><circle cx="240.4" cy="601.0" r="3.25" fill="#92d050" stroke="#111" stroke-width="0.85"/><circle cx="249.6" cy="608.0" r="3.25" fill="#92d050" stroke="#111" stroke-width="0.85"/><circle cx="207.0" cy="604.0" r="3.25" fill="#92d050" stroke="#111" stroke-width="0.85"/><circle cx="206.6" cy="608.0" r="3.25" fill="#92d050" stroke="#111" stroke-width="0.85"/><circle cx="207.0" cy="618.6" r="3.25" fill="#92d050" stroke="#111" stroke-width="0.85"/><circle cx="253.4" cy="573.6" r="3.25" fill="#92d050" stroke="#111" stroke-width="0.85"/><circle cx="263.0" cy="570.0" r="3.25" fill="#92d050" stroke="#111" stroke-width="0.85"/><circle cx="264.0" cy="572.6" r="3.25" fill="#92d050" stroke="#111" stroke-width="0.85"/><circle cx="266.0" cy="566.0" r="3.25" fill="#92d050" stroke="#111" stroke-width="0.85"/><circle cx="272.4" cy="561.4" r="3.25" fill="#92d050" stroke="#111" stroke-width="0.85"/><circle cx="271.0" cy="569.0" r="3.25" fill="#92d050" stroke="#111" stroke-width="0.85"/><circle cx="267.0" cy="587.0" r="3.25" fill="#92d050" stroke="#111" stroke-width="0.85"/><circle cx="267.4" cy="592.4" r="3.25" fill="#92d050" stroke="#111" stroke-width="0.85"/><circle cx="269.0" cy="601.4" r="3.25" fill="#92d050" stroke="#111" stroke-width="0.85"/><circle cx="271.0" cy="611.0" r="3.25" fill="#92d050" stroke="#111" stroke-width="0.85"/><circle cx="276.0" cy="597.4" r="3.25" fill="#92d050" stroke="#111" stroke-width="0.85"/><circle cx="282.0" cy="596.4" r="3.25" fill="#92d050" stroke="#111" stroke-width="0.85"/><circle cx="282.6" cy="601.0" r="3.25" fill="#92d050" stroke="#111" stroke-width="0.85"/><circle cx="288.0" cy="598.0" r="3.25" fill="#92d050" stroke="#111" stroke-width="0.85"/><circle cx="283.0" cy="577.6" r="3.25" fill="#92d050" stroke="#111" stroke-width="0.85"/><circle cx="293.4" cy="576.0" r="3.25" fill="#92d050" stroke="#111" stroke-width="0.85"/><circle cx="297.4" cy="583.0" r="3.25" fill="#92d050" stroke="#111" stroke-width="0.85"/><circle cx="302.0" cy="564.6" r="3.25" fill="#92d050" stroke="#111" stroke-width="0.85"/><circle cx="312.4" cy="562.0" r="3.25" fill="#92d050" stroke="#111" stroke-width="0.85"/><circle cx="311.0" cy="569.0" r="3.25" fill="#92d050" stroke="#111" stroke-width="0.85"/><circle cx="317.6" cy="568.4" r="3.25" fill="#92d050" stroke="#111" stroke-width="0.85"/><circle cx="262.0" cy="625.0" r="3.25" fill="#92d050" stroke="#111" stroke-width="0.85"/><path d="M165.1 563.4h11M170.6 557.9v11" stroke="#000" stroke-width="2.2" fill="none"/><path d="M230.5 554.0h11M236.0 548.5v11" stroke="#000" stroke-width="2.2" fill="none"/><path d="M69.6 464.7V653.3H335.6" stroke="#000" stroke-width="1.1" fill="none"/><path d="M69.6 464.70h3.6" stroke="#000" stroke-width="1.1"/><text x="58.0" y="469.20" font-size="13" text-anchor="end" fill="#1a1a1a" stroke="#1a1a1a" stroke-width="0.25">0.20</text><path d="M69.6 511.85h3.6" stroke="#000" stroke-width="1.1"/><text x="58.0" y="516.35" font-size="13" text-anchor="end" fill="#1a1a1a" stroke="#1a1a1a" stroke-width="0.25">0.10</text><path d="M69.6 559.00h3.6" stroke="#000" stroke-width="1.1"/><text x="58.0" y="563.50" font-size="13" text-anchor="end" fill="#1a1a1a" stroke="#1a1a1a" stroke-width="0.25">0.00</text><path d="M69.6 606.15h3.6" stroke="#000" stroke-width="1.1"/><text x="58.0" y="610.65" font-size="13" text-anchor="end" fill="#1a1a1a" stroke="#1a1a1a" stroke-width="0.25">-0.10</text><path d="M69.6 653.30h3.6" stroke="#000" stroke-width="1.1"/><text x="58.0" y="657.80" font-size="13" text-anchor="end" fill="#1a1a1a" stroke="#1a1a1a" stroke-width="0.25">-0.20</text><path d="M136.10 653.3v-3.8" stroke="#000" stroke-width="1.1"/><text x="136.10" y="673.50" font-size="13" text-anchor="middle" fill="#1a1a1a" stroke="#1a1a1a" stroke-width="0.25">-0.10</text><path d="M202.60 653.3v-3.8" stroke="#000" stroke-width="1.1"/><text x="202.60" y="673.50" font-size="13" text-anchor="middle" fill="#1a1a1a" stroke="#1a1a1a" stroke-width="0.25">0.00</text><path d="M269.10 653.3v-3.8" stroke="#000" stroke-width="1.1"/><text x="269.10" y="673.50" font-size="13" text-anchor="middle" fill="#1a1a1a" stroke="#1a1a1a" stroke-width="0.25">0.10</text><path d="M335.60 653.3v-3.8" stroke="#000" stroke-width="1.1"/><text x="335.60" y="673.50" font-size="13" text-anchor="middle" fill="#1a1a1a" stroke="#1a1a1a" stroke-width="0.25">0.20</text><text x="81.0" y="477.9" font-size="19.5" font-weight="bold" fill="#000">E</text></g><g><circle cx="531.0" cy="544.4" r="3.25" fill="#92d050" stroke="#111" stroke-width="0.85"/><circle cx="518.4" cy="552.6" r="3.25" fill="#92d050" stroke="#111" stroke-width="0.85"/><circle cx="540.0" cy="551.0" r="3.25" fill="#92d050" stroke="#111" stroke-width="0.85"/><circle cx="532.6" cy="569.4" r="3.25" fill="#92d050" stroke="#111" stroke-width="0.85"/><circle cx="621.6" cy="470.4" r="3.25" fill="#92d050" stroke="#111" stroke-width="0.85"/><circle cx="614.0" cy="487.6" r="3.25" fill="#92d050" stroke="#111" stroke-width="0.85"/><circle cx="609.0" cy="492.0" r="3.25" fill="#92d050" stroke="#111" stroke-width="0.85"/><circle cx="603.4" cy="494.6" r="3.25" fill="#92d050" stroke="#111" stroke-width="0.85"/><circle cx="621.0" cy="495.4" r="3.25" fill="#92d050" stroke="#111" stroke-width="0.85"/><circle cx="582.6" cy="499.4" r="3.25" fill="#92d050" stroke="#111" stroke-width="0.85"/><circle cx="580.4" cy="504.0" r="3.25" fill="#92d050" stroke="#111" stroke-width="0.85"/><circle cx="566.0" cy="503.0" r="3.25" fill="#92d050" stroke="#111" stroke-width="0.85"/><circle cx="585.4" cy="511.0" r="3.25" fill="#92d050" stroke="#111" stroke-width="0.85"/><circle cx="605.0" cy="505.0" r="3.25" fill="#92d050" stroke="#111" stroke-width="0.85"/><circle cx="612.6" cy="504.4" r="3.25" fill="#92d050" stroke="#111" stroke-width="0.85"/><circle cx="623.0" cy="504.0" r="3.25" fill="#92d050" stroke="#111" stroke-width="0.85"/><circle cx="632.4" cy="507.4" r="3.25" fill="#92d050" stroke="#111" stroke-width="0.85"/><circle cx="607.4" cy="511.4" r="3.25" fill="#92d050" stroke="#111" stroke-width="0.85"/><circle cx="603.0" cy="518.6" r="3.25" fill="#92d050" stroke="#111" stroke-width="0.85"/><circle cx="607.0" cy="518.6" r="3.25" fill="#92d050" stroke="#111" stroke-width="0.85"/><circle cx="613.4" cy="519.6" r="3.25" fill="#92d050" stroke="#111" stroke-width="0.85"/><circle cx="619.0" cy="516.0" r="3.25" fill="#92d050" stroke="#111" stroke-width="0.85"/><circle cx="628.6" cy="517.4" r="3.25" fill="#92d050" stroke="#111" stroke-width="0.85"/><circle cx="610.4" cy="523.6" r="3.25" fill="#92d050" stroke="#111" stroke-width="0.85"/><circle cx="578.0" cy="527.4" r="3.25" fill="#92d050" stroke="#111" stroke-width="0.85"/><circle cx="575.4" cy="536.0" r="3.25" fill="#92d050" stroke="#111" stroke-width="0.85"/><circle cx="596.6" cy="531.0" r="3.25" fill="#92d050" stroke="#111" stroke-width="0.85"/><circle cx="605.6" cy="529.4" r="3.25" fill="#92d050" stroke="#111" stroke-width="0.85"/><circle cx="608.6" cy="529.0" r="3.25" fill="#92d050" stroke="#111" stroke-width="0.85"/><circle cx="626.4" cy="531.0" r="3.25" fill="#92d050" stroke="#111" stroke-width="0.85"/><circle cx="622.4" cy="540.6" r="3.25" fill="#92d050" stroke="#111" stroke-width="0.85"/><circle cx="626.6" cy="545.0" r="3.25" fill="#92d050" stroke="#111" stroke-width="0.85"/><circle cx="593.0" cy="551.0" r="3.25" fill="#92d050" stroke="#111" stroke-width="0.85"/><circle cx="597.0" cy="551.0" r="3.25" fill="#92d050" stroke="#111" stroke-width="0.85"/><circle cx="606.4" cy="550.0" r="3.25" fill="#92d050" stroke="#111" stroke-width="0.85"/><circle cx="611.0" cy="548.6" r="3.25" fill="#92d050" stroke="#111" stroke-width="0.85"/><circle cx="615.4" cy="550.0" r="3.25" fill="#92d050" stroke="#111" stroke-width="0.85"/><circle cx="591.4" cy="556.0" r="3.25" fill="#92d050" stroke="#111" stroke-width="0.85"/><circle cx="605.4" cy="554.6" r="3.25" fill="#92d050" stroke="#111" stroke-width="0.85"/><circle cx="609.0" cy="554.0" r="3.25" fill="#92d050" stroke="#111" stroke-width="0.85"/><circle cx="598.0" cy="556.0" r="3.25" fill="#92d050" stroke="#111" stroke-width="0.85"/><circle cx="607.0" cy="561.0" r="3.25" fill="#92d050" stroke="#111" stroke-width="0.85"/><circle cx="603.0" cy="565.6" r="3.25" fill="#92d050" stroke="#111" stroke-width="0.85"/><circle cx="616.4" cy="562.0" r="3.25" fill="#92d050" stroke="#111" stroke-width="0.85"/><circle cx="582.6" cy="561.6" r="3.25" fill="#92d050" stroke="#111" stroke-width="0.85"/><circle cx="583.0" cy="568.6" r="3.25" fill="#92d050" stroke="#111" stroke-width="0.85"/><circle cx="561.6" cy="575.6" r="3.25" fill="#92d050" stroke="#111" stroke-width="0.85"/><circle cx="580.0" cy="578.0" r="3.25" fill="#92d050" stroke="#111" stroke-width="0.85"/><circle cx="577.0" cy="584.0" r="3.25" fill="#92d050" stroke="#111" stroke-width="0.85"/><circle cx="593.0" cy="579.6" r="3.25" fill="#92d050" stroke="#111" stroke-width="0.85"/><circle cx="612.0" cy="581.0" r="3.25" fill="#92d050" stroke="#111" stroke-width="0.85"/><circle cx="610.6" cy="582.4" r="3.25" fill="#92d050" stroke="#111" stroke-width="0.85"/><circle cx="617.4" cy="582.4" r="3.25" fill="#92d050" stroke="#111" stroke-width="0.85"/><circle cx="619.0" cy="575.0" r="3.25" fill="#92d050" stroke="#111" stroke-width="0.85"/><circle cx="624.0" cy="572.4" r="3.25" fill="#92d050" stroke="#111" stroke-width="0.85"/><circle cx="628.6" cy="572.4" r="3.25" fill="#92d050" stroke="#111" stroke-width="0.85"/><circle cx="629.6" cy="576.0" r="3.25" fill="#92d050" stroke="#111" stroke-width="0.85"/><circle cx="622.0" cy="580.0" r="3.25" fill="#92d050" stroke="#111" stroke-width="0.85"/><circle cx="625.6" cy="583.6" r="3.25" fill="#92d050" stroke="#111" stroke-width="0.85"/><circle cx="600.6" cy="590.4" r="3.25" fill="#92d050" stroke="#111" stroke-width="0.85"/><circle cx="608.0" cy="593.0" r="3.25" fill="#92d050" stroke="#111" stroke-width="0.85"/><circle cx="616.0" cy="600.0" r="3.25" fill="#92d050" stroke="#111" stroke-width="0.85"/><circle cx="615.4" cy="605.0" r="3.25" fill="#92d050" stroke="#111" stroke-width="0.85"/><circle cx="616.0" cy="610.0" r="3.25" fill="#92d050" stroke="#111" stroke-width="0.85"/><circle cx="608.6" cy="608.0" r="3.25" fill="#92d050" stroke="#111" stroke-width="0.85"/><circle cx="633.4" cy="597.6" r="3.25" fill="#92d050" stroke="#111" stroke-width="0.85"/><circle cx="557.0" cy="606.0" r="3.25" fill="#92d050" stroke="#111" stroke-width="0.85"/><circle cx="568.4" cy="604.4" r="3.25" fill="#92d050" stroke="#111" stroke-width="0.85"/><circle cx="574.0" cy="604.0" r="3.25" fill="#92d050" stroke="#111" stroke-width="0.85"/><circle cx="576.4" cy="608.4" r="3.25" fill="#92d050" stroke="#111" stroke-width="0.85"/><circle cx="577.0" cy="614.4" r="3.25" fill="#92d050" stroke="#111" stroke-width="0.85"/><circle cx="577.6" cy="620.0" r="3.25" fill="#92d050" stroke="#111" stroke-width="0.85"/><circle cx="586.6" cy="602.4" r="3.25" fill="#92d050" stroke="#111" stroke-width="0.85"/><circle cx="588.0" cy="610.0" r="3.25" fill="#92d050" stroke="#111" stroke-width="0.85"/><circle cx="589.4" cy="612.4" r="3.25" fill="#92d050" stroke="#111" stroke-width="0.85"/><circle cx="603.4" cy="617.6" r="3.25" fill="#92d050" stroke="#111" stroke-width="0.85"/><circle cx="614.6" cy="618.0" r="3.25" fill="#92d050" stroke="#111" stroke-width="0.85"/><circle cx="609.0" cy="623.6" r="3.25" fill="#92d050" stroke="#111" stroke-width="0.85"/><circle cx="628.6" cy="618.4" r="3.25" fill="#92d050" stroke="#111" stroke-width="0.85"/><circle cx="593.4" cy="632.0" r="3.25" fill="#92d050" stroke="#111" stroke-width="0.85"/><circle cx="603.0" cy="637.4" r="3.25" fill="#92d050" stroke="#111" stroke-width="0.85"/><circle cx="602.0" cy="642.0" r="3.25" fill="#92d050" stroke="#111" stroke-width="0.85"/><circle cx="550.3" cy="568.8" r="3.25" fill="#92d050" stroke="#111" stroke-width="0.85"/><circle cx="487.0" cy="492.4" r="3.25" fill="#808080" stroke="#111" stroke-width="0.85"/><circle cx="477.0" cy="498.4" r="3.25" fill="#808080" stroke="#111" stroke-width="0.85"/><circle cx="486.6" cy="500.0" r="3.25" fill="#808080" stroke="#111" stroke-width="0.85"/><circle cx="491.4" cy="504.6" r="3.25" fill="#808080" stroke="#111" stroke-width="0.85"/><circle cx="467.6" cy="508.6" r="3.25" fill="#808080" stroke="#111" stroke-width="0.85"/><circle cx="467.4" cy="511.6" r="3.25" fill="#808080" stroke="#111" stroke-width="0.85"/><circle cx="458.4" cy="512.0" r="3.25" fill="#808080" stroke="#111" stroke-width="0.85"/><circle cx="456.4" cy="515.4" r="3.25" fill="#808080" stroke="#111" stroke-width="0.85"/><circle cx="425.4" cy="519.6" r="3.25" fill="#808080" stroke="#111" stroke-width="0.85"/><circle cx="446.4" cy="520.4" r="3.25" fill="#808080" stroke="#111" stroke-width="0.85"/><circle cx="436.0" cy="526.0" r="3.25" fill="#808080" stroke="#111" stroke-width="0.85"/><circle cx="470.0" cy="520.4" r="3.25" fill="#808080" stroke="#111" stroke-width="0.85"/><circle cx="474.0" cy="519.0" r="3.25" fill="#808080" stroke="#111" stroke-width="0.85"/><circle cx="462.0" cy="525.0" r="3.25" fill="#808080" stroke="#111" stroke-width="0.85"/><circle cx="456.4" cy="529.4" r="3.25" fill="#808080" stroke="#111" stroke-width="0.85"/><circle cx="479.4" cy="526.4" r="3.25" fill="#808080" stroke="#111" stroke-width="0.85"/><circle cx="489.4" cy="524.0" r="3.25" fill="#808080" stroke="#111" stroke-width="0.85"/><circle cx="491.6" cy="525.0" r="3.25" fill="#808080" stroke="#111" stroke-width="0.85"/><circle cx="505.0" cy="525.6" r="3.25" fill="#808080" stroke="#111" stroke-width="0.85"/><circle cx="522.4" cy="535.0" r="3.25" fill="#808080" stroke="#111" stroke-width="0.85"/><circle cx="472.6" cy="538.6" r="3.25" fill="#808080" stroke="#111" stroke-width="0.85"/><circle cx="444.6" cy="539.4" r="3.25" fill="#808080" stroke="#111" stroke-width="0.85"/><circle cx="442.0" cy="543.6" r="3.25" fill="#808080" stroke="#111" stroke-width="0.85"/><circle cx="426.0" cy="545.4" r="3.25" fill="#808080" stroke="#111" stroke-width="0.85"/><circle cx="428.4" cy="550.6" r="3.25" fill="#808080" stroke="#111" stroke-width="0.85"/><circle cx="484.0" cy="542.4" r="3.25" fill="#808080" stroke="#111" stroke-width="0.85"/><circle cx="488.4" cy="544.0" r="3.25" fill="#808080" stroke="#111" stroke-width="0.85"/><circle cx="502.4" cy="545.0" r="3.25" fill="#808080" stroke="#111" stroke-width="0.85"/><circle cx="504.0" cy="549.4" r="3.25" fill="#808080" stroke="#111" stroke-width="0.85"/><circle cx="458.0" cy="549.4" r="3.25" fill="#808080" stroke="#111" stroke-width="0.85"/><circle cx="458.4" cy="553.0" r="3.25" fill="#808080" stroke="#111" stroke-width="0.85"/><circle cx="466.0" cy="551.4" r="3.25" fill="#808080" stroke="#111" stroke-width="0.85"/><circle cx="473.6" cy="550.4" r="3.25" fill="#808080" stroke="#111" stroke-width="0.85"/><circle cx="480.0" cy="552.0" r="3.25" fill="#808080" stroke="#111" stroke-width="0.85"/><circle cx="483.0" cy="556.0" r="3.25" fill="#808080" stroke="#111" stroke-width="0.85"/><circle cx="527.0" cy="554.0" r="3.25" fill="#808080" stroke="#111" stroke-width="0.85"/><circle cx="431.6" cy="557.4" r="3.25" fill="#808080" stroke="#111" stroke-width="0.85"/><circle cx="449.0" cy="557.4" r="3.25" fill="#808080" stroke="#111" stroke-width="0.85"/><circle cx="472.6" cy="557.4" r="3.25" fill="#808080" stroke="#111" stroke-width="0.85"/><circle cx="434.6" cy="564.4" r="3.25" fill="#808080" stroke="#111" stroke-width="0.85"/><circle cx="442.0" cy="567.0" r="3.25" fill="#808080" stroke="#111" stroke-width="0.85"/><circle cx="458.4" cy="561.6" r="3.25" fill="#808080" stroke="#111" stroke-width="0.85"/><circle cx="475.0" cy="566.0" r="3.25" fill="#808080" stroke="#111" stroke-width="0.85"/><circle cx="481.0" cy="568.0" r="3.25" fill="#808080" stroke="#111" stroke-width="0.85"/><circle cx="482.0" cy="564.6" r="3.25" fill="#808080" stroke="#111" stroke-width="0.85"/><circle cx="464.6" cy="570.0" r="3.25" fill="#808080" stroke="#111" stroke-width="0.85"/><circle cx="480.4" cy="575.6" r="3.25" fill="#808080" stroke="#111" stroke-width="0.85"/><circle cx="503.4" cy="571.6" r="3.25" fill="#808080" stroke="#111" stroke-width="0.85"/><circle cx="503.0" cy="571.0" r="3.25" fill="#808080" stroke="#111" stroke-width="0.85"/><circle cx="460.0" cy="578.0" r="3.25" fill="#808080" stroke="#111" stroke-width="0.85"/><circle cx="461.0" cy="576.0" r="3.25" fill="#808080" stroke="#111" stroke-width="0.85"/><circle cx="471.0" cy="577.6" r="3.25" fill="#808080" stroke="#111" stroke-width="0.85"/><circle cx="472.0" cy="578.4" r="3.25" fill="#808080" stroke="#111" stroke-width="0.85"/><circle cx="477.0" cy="581.0" r="3.25" fill="#808080" stroke="#111" stroke-width="0.85"/><circle cx="465.0" cy="582.0" r="3.25" fill="#808080" stroke="#111" stroke-width="0.85"/><circle cx="444.6" cy="582.4" r="3.25" fill="#808080" stroke="#111" stroke-width="0.85"/><circle cx="454.0" cy="584.0" r="3.25" fill="#808080" stroke="#111" stroke-width="0.85"/><circle cx="449.6" cy="589.6" r="3.25" fill="#808080" stroke="#111" stroke-width="0.85"/><circle cx="449.0" cy="591.6" r="3.25" fill="#808080" stroke="#111" stroke-width="0.85"/><circle cx="475.0" cy="588.0" r="3.25" fill="#808080" stroke="#111" stroke-width="0.85"/><circle cx="484.4" cy="587.6" r="3.25" fill="#808080" stroke="#111" stroke-width="0.85"/><circle cx="490.0" cy="583.6" r="3.25" fill="#808080" stroke="#111" stroke-width="0.85"/><circle cx="493.0" cy="585.0" r="3.25" fill="#808080" stroke="#111" stroke-width="0.85"/><circle cx="491.0" cy="588.6" r="3.25" fill="#808080" stroke="#111" stroke-width="0.85"/><circle cx="499.4" cy="580.6" r="3.25" fill="#808080" stroke="#111" stroke-width="0.85"/><circle cx="508.4" cy="587.4" r="3.25" fill="#808080" stroke="#111" stroke-width="0.85"/><circle cx="481.0" cy="593.6" r="3.25" fill="#808080" stroke="#111" stroke-width="0.85"/><circle cx="484.4" cy="595.0" r="3.25" fill="#808080" stroke="#111" stroke-width="0.85"/><circle cx="502.6" cy="594.6" r="3.25" fill="#808080" stroke="#111" stroke-width="0.85"/><circle cx="461.4" cy="598.0" r="3.25" fill="#808080" stroke="#111" stroke-width="0.85"/><circle cx="474.0" cy="604.0" r="3.25" fill="#808080" stroke="#111" stroke-width="0.85"/><circle cx="487.6" cy="604.4" r="3.25" fill="#808080" stroke="#111" stroke-width="0.85"/><circle cx="486.6" cy="607.4" r="3.25" fill="#808080" stroke="#111" stroke-width="0.85"/><circle cx="520.4" cy="605.4" r="3.25" fill="#808080" stroke="#111" stroke-width="0.85"/><circle cx="564.6" cy="516.4" r="3.25" fill="#808080" stroke="#111" stroke-width="0.85"/><circle cx="629.0" cy="549.4" r="3.25" fill="#808080" stroke="#111" stroke-width="0.85"/><circle cx="551.6" cy="569.0" r="3.25" fill="#808080" stroke="#111" stroke-width="0.85"/><circle cx="561.0" cy="569.4" r="3.25" fill="#808080" stroke="#111" stroke-width="0.85"/><circle cx="612.0" cy="596.4" r="3.25" fill="#808080" stroke="#111" stroke-width="0.85"/><path d="M474.5 558.0h11M480.0 552.5v11" stroke="#000" stroke-width="2.2" fill="none"/><path d="M594.5 559.0h11M600.0 553.5v11" stroke="#000" stroke-width="2.2" fill="none"/><path d="M406.6 464.7V653.3H672.6" stroke="#000" stroke-width="1.1" fill="none"/><path d="M406.6 464.70h3.6" stroke="#000" stroke-width="1.1"/><text x="395.0" y="469.20" font-size="13" text-anchor="end" fill="#1a1a1a" stroke="#1a1a1a" stroke-width="0.25">0.20</text><path d="M406.6 511.85h3.6" stroke="#000" stroke-width="1.1"/><text x="395.0" y="516.35" font-size="13" text-anchor="end" fill="#1a1a1a" stroke="#1a1a1a" stroke-width="0.25">0.10</text><path d="M406.6 559.00h3.6" stroke="#000" stroke-width="1.1"/><text x="395.0" y="563.50" font-size="13" text-anchor="end" fill="#1a1a1a" stroke="#1a1a1a" stroke-width="0.25">0.00</text><path d="M406.6 606.15h3.6" stroke="#000" stroke-width="1.1"/><text x="395.0" y="610.65" font-size="13" text-anchor="end" fill="#1a1a1a" stroke="#1a1a1a" stroke-width="0.25">-0.10</text><path d="M406.6 653.30h3.6" stroke="#000" stroke-width="1.1"/><text x="395.0" y="657.80" font-size="13" text-anchor="end" fill="#1a1a1a" stroke="#1a1a1a" stroke-width="0.25">-0.20</text><path d="M495.27 653.3v-3.8" stroke="#000" stroke-width="1.1"/><text x="495.27" y="673.50" font-size="13" text-anchor="middle" fill="#1a1a1a" stroke="#1a1a1a" stroke-width="0.25">-0.05</text><path d="M583.93 653.3v-3.8" stroke="#000" stroke-width="1.1"/><text x="583.93" y="673.50" font-size="13" text-anchor="middle" fill="#1a1a1a" stroke="#1a1a1a" stroke-width="0.25">0.05</text><path d="M672.60 653.3v-3.8" stroke="#000" stroke-width="1.1"/><text x="672.60" y="673.50" font-size="13" text-anchor="middle" fill="#1a1a1a" stroke="#1a1a1a" stroke-width="0.25">0.15</text><text x="422.0" y="477.9" font-size="19.5" font-weight="bold" fill="#000">F</text></g><g><circle cx="163.6" cy="710.0" r="3.25" fill="#ffffff" stroke="#111" stroke-width="0.85"/><circle cx="176.6" cy="709.0" r="3.25" fill="#ffffff" stroke="#111" stroke-width="0.85"/><circle cx="163.0" cy="717.6" r="3.25" fill="#ffffff" stroke="#111" stroke-width="0.85"/><circle cx="168.4" cy="721.6" r="3.25" fill="#ffffff" stroke="#111" stroke-width="0.85"/><circle cx="172.6" cy="723.0" r="3.25" fill="#ffffff" stroke="#111" stroke-width="0.85"/><circle cx="174.0" cy="724.4" r="3.25" fill="#ffffff" stroke="#111" stroke-width="0.85"/><circle cx="170.0" cy="729.4" r="3.25" fill="#ffffff" stroke="#111" stroke-width="0.85"/><circle cx="181.4" cy="725.0" r="3.25" fill="#ffffff" stroke="#111" stroke-width="0.85"/><circle cx="190.0" cy="718.6" r="3.25" fill="#ffffff" stroke="#111" stroke-width="0.85"/><circle cx="153.6" cy="746.4" r="3.25" fill="#ffffff" stroke="#111" stroke-width="0.85"/><circle cx="181.6" cy="747.0" r="3.25" fill="#ffffff" stroke="#111" stroke-width="0.85"/><circle cx="182.6" cy="748.6" r="3.25" fill="#ffffff" stroke="#111" stroke-width="0.85"/><circle cx="187.6" cy="759.6" r="3.25" fill="#ffffff" stroke="#111" stroke-width="0.85"/><circle cx="184.6" cy="778.0" r="3.25" fill="#ffffff" stroke="#111" stroke-width="0.85"/><circle cx="201.3" cy="715.1" r="3.25" fill="#ffffff" stroke="#111" stroke-width="0.85"/><circle cx="204.5" cy="720.9" r="3.25" fill="#ffffff" stroke="#111" stroke-width="0.85"/><circle cx="210.5" cy="724.1" r="3.25" fill="#ffffff" stroke="#111" stroke-width="0.85"/><circle cx="209.2" cy="730.4" r="3.25" fill="#ffffff" stroke="#111" stroke-width="0.85"/><circle cx="215.0" cy="734.1" r="3.25" fill="#ffffff" stroke="#111" stroke-width="0.85"/><circle cx="226.8" cy="730.2" r="3.25" fill="#ffffff" stroke="#111" stroke-width="0.85"/><circle cx="195.7" cy="737.0" r="3.25" fill="#ffffff" stroke="#111" stroke-width="0.85"/><circle cx="202.9" cy="739.6" r="3.25" fill="#ffffff" stroke="#111" stroke-width="0.85"/><circle cx="204.9" cy="745.6" r="3.25" fill="#ffffff" stroke="#111" stroke-width="0.85"/><circle cx="203.1" cy="752.1" r="3.25" fill="#ffffff" stroke="#111" stroke-width="0.85"/><circle cx="242.3" cy="742.5" r="3.25" fill="#ffffff" stroke="#111" stroke-width="0.85"/><circle cx="231.5" cy="746.6" r="3.25" fill="#ffffff" stroke="#111" stroke-width="0.85"/><circle cx="238.6" cy="753.4" r="3.25" fill="#ffffff" stroke="#111" stroke-width="0.85"/><circle cx="246.2" cy="752.8" r="3.25" fill="#ffffff" stroke="#111" stroke-width="0.85"/><circle cx="218.6" cy="757.1" r="3.25" fill="#ffffff" stroke="#111" stroke-width="0.85"/><circle cx="222.6" cy="756.7" r="3.25" fill="#ffffff" stroke="#111" stroke-width="0.85"/><circle cx="226.5" cy="760.7" r="3.25" fill="#ffffff" stroke="#111" stroke-width="0.85"/><circle cx="237.7" cy="760.7" r="3.25" fill="#ffffff" stroke="#111" stroke-width="0.85"/><circle cx="242.3" cy="760.0" r="3.25" fill="#ffffff" stroke="#111" stroke-width="0.85"/><circle cx="244.3" cy="761.3" r="3.25" fill="#ffffff" stroke="#111" stroke-width="0.85"/><circle cx="245.6" cy="759.4" r="3.25" fill="#ffffff" stroke="#111" stroke-width="0.85"/><circle cx="255.8" cy="758.0" r="3.25" fill="#ffffff" stroke="#111" stroke-width="0.85"/><circle cx="258.1" cy="761.3" r="3.25" fill="#ffffff" stroke="#111" stroke-width="0.85"/><circle cx="251.5" cy="766.6" r="3.25" fill="#ffffff" stroke="#111" stroke-width="0.85"/><circle cx="235.1" cy="765.9" r="3.25" fill="#ffffff" stroke="#111" stroke-width="0.85"/><circle cx="238.4" cy="767.2" r="3.25" fill="#ffffff" stroke="#111" stroke-width="0.85"/><circle cx="229.8" cy="763.9" r="3.25" fill="#ffffff" stroke="#111" stroke-width="0.85"/><circle cx="238.4" cy="772.5" r="3.25" fill="#ffffff" stroke="#111" stroke-width="0.85"/><circle cx="234.4" cy="775.8" r="3.25" fill="#ffffff" stroke="#111" stroke-width="0.85"/><circle cx="224.6" cy="775.8" r="3.25" fill="#ffffff" stroke="#111" stroke-width="0.85"/><circle cx="226.5" cy="771.8" r="3.25" fill="#ffffff" stroke="#111" stroke-width="0.85"/><circle cx="220.0" cy="773.8" r="3.25" fill="#ffffff" stroke="#111" stroke-width="0.85"/><circle cx="214.7" cy="778.4" r="3.25" fill="#ffffff" stroke="#111" stroke-width="0.85"/><circle cx="208.8" cy="774.5" r="3.25" fill="#ffffff" stroke="#111" stroke-width="0.85"/><circle cx="202.9" cy="774.5" r="3.25" fill="#ffffff" stroke="#111" stroke-width="0.85"/><circle cx="197.0" cy="766.6" r="3.25" fill="#ffffff" stroke="#111" stroke-width="0.85"/><circle cx="205.5" cy="781.3" r="3.25" fill="#ffffff" stroke="#111" stroke-width="0.85"/><circle cx="249.5" cy="773.1" r="3.25" fill="#ffffff" stroke="#111" stroke-width="0.85"/><circle cx="252.2" cy="775.1" r="3.25" fill="#ffffff" stroke="#111" stroke-width="0.85"/><circle cx="246.9" cy="779.7" r="3.25" fill="#ffffff" stroke="#111" stroke-width="0.85"/><circle cx="244.3" cy="783.0" r="3.25" fill="#ffffff" stroke="#111" stroke-width="0.85"/><circle cx="248.9" cy="783.7" r="3.25" fill="#ffffff" stroke="#111" stroke-width="0.85"/><circle cx="261.4" cy="781.3" r="3.25" fill="#ffffff" stroke="#111" stroke-width="0.85"/><circle cx="229.8" cy="783.7" r="3.25" fill="#ffffff" stroke="#111" stroke-width="0.85"/><circle cx="234.4" cy="785.0" r="3.25" fill="#ffffff" stroke="#111" stroke-width="0.85"/><circle cx="213.4" cy="784.3" r="3.25" fill="#ffffff" stroke="#111" stroke-width="0.85"/><circle cx="218.0" cy="783.7" r="3.25" fill="#ffffff" stroke="#111" stroke-width="0.85"/><circle cx="197.6" cy="785.0" r="3.25" fill="#ffffff" stroke="#111" stroke-width="0.85"/><circle cx="267.3" cy="786.9" r="3.25" fill="#ffffff" stroke="#111" stroke-width="0.85"/><circle cx="218.6" cy="788.3" r="3.25" fill="#ffffff" stroke="#111" stroke-width="0.85"/><circle cx="261.6" cy="789.0" r="3.25" fill="#ffffff" stroke="#111" stroke-width="0.85"/><circle cx="237.3" cy="791.8" r="3.25" fill="#ffffff" stroke="#111" stroke-width="0.85"/><circle cx="240.8" cy="790.4" r="3.25" fill="#ffffff" stroke="#111" stroke-width="0.85"/><circle cx="245.6" cy="791.1" r="3.25" fill="#ffffff" stroke="#111" stroke-width="0.85"/><circle cx="239.4" cy="796.6" r="3.25" fill="#ffffff" stroke="#111" stroke-width="0.85"/><circle cx="245.6" cy="795.3" r="3.25" fill="#ffffff" stroke="#111" stroke-width="0.85"/><circle cx="231.3" cy="797.3" r="3.25" fill="#ffffff" stroke="#111" stroke-width="0.85"/><circle cx="253.9" cy="793.9" r="3.25" fill="#ffffff" stroke="#111" stroke-width="0.85"/><circle cx="232.4" cy="803.6" r="3.25" fill="#ffffff" stroke="#111" stroke-width="0.85"/><circle cx="249.8" cy="807.0" r="3.25" fill="#ffffff" stroke="#111" stroke-width="0.85"/><circle cx="251.2" cy="807.7" r="3.25" fill="#ffffff" stroke="#111" stroke-width="0.85"/><circle cx="265.0" cy="802.2" r="3.25" fill="#ffffff" stroke="#111" stroke-width="0.85"/><circle cx="264.3" cy="805.0" r="3.25" fill="#ffffff" stroke="#111" stroke-width="0.85"/><circle cx="263.7" cy="807.0" r="3.25" fill="#ffffff" stroke="#111" stroke-width="0.85"/><circle cx="272.0" cy="806.4" r="3.25" fill="#ffffff" stroke="#111" stroke-width="0.85"/><circle cx="262.3" cy="812.6" r="3.25" fill="#ffffff" stroke="#111" stroke-width="0.85"/><circle cx="258.1" cy="813.3" r="3.25" fill="#ffffff" stroke="#111" stroke-width="0.85"/><circle cx="240.1" cy="814.4" r="3.25" fill="#ffffff" stroke="#111" stroke-width="0.85"/><circle cx="255.6" cy="829.2" r="3.25" fill="#ffffff" stroke="#111" stroke-width="0.85"/><circle cx="232.5" cy="765.7" r="3.25" fill="#ffffff" stroke="#111" stroke-width="0.85"/><circle cx="229.6" cy="774.1" r="3.25" fill="#ffffff" stroke="#111" stroke-width="0.85"/><circle cx="228.1" cy="777.0" r="3.25" fill="#ffffff" stroke="#111" stroke-width="0.85"/><circle cx="236.0" cy="768.5" r="3.25" fill="#ffffff" stroke="#111" stroke-width="0.85"/><circle cx="243.5" cy="760.2" r="3.25" fill="#ffffff" stroke="#111" stroke-width="0.85"/><circle cx="242.5" cy="761.5" r="3.25" fill="#ffffff" stroke="#111" stroke-width="0.85"/><circle cx="250.0" cy="773.5" r="3.25" fill="#ffffff" stroke="#111" stroke-width="0.85"/><circle cx="241.0" cy="791.0" r="3.25" fill="#ffffff" stroke="#111" stroke-width="0.85"/><circle cx="245.0" cy="792.0" r="3.25" fill="#ffffff" stroke="#111" stroke-width="0.85"/><circle cx="233.0" cy="770.0" r="3.25" fill="#ffffff" stroke="#111" stroke-width="0.85"/><circle cx="175.0" cy="729.6" r="3.25" fill="#92d050" stroke="#111" stroke-width="0.85"/><circle cx="189.4" cy="729.0" r="3.25" fill="#92d050" stroke="#111" stroke-width="0.85"/><circle cx="190.6" cy="740.0" r="3.25" fill="#92d050" stroke="#111" stroke-width="0.85"/><circle cx="174.4" cy="752.0" r="3.25" fill="#92d050" stroke="#111" stroke-width="0.85"/><circle cx="180.4" cy="755.4" r="3.25" fill="#92d050" stroke="#111" stroke-width="0.85"/><circle cx="182.0" cy="750.0" r="3.25" fill="#92d050" stroke="#111" stroke-width="0.85"/><circle cx="193.4" cy="756.4" r="3.25" fill="#92d050" stroke="#111" stroke-width="0.85"/><circle cx="147.6" cy="758.6" r="3.25" fill="#92d050" stroke="#111" stroke-width="0.85"/><circle cx="156.4" cy="762.4" r="3.25" fill="#92d050" stroke="#111" stroke-width="0.85"/><circle cx="161.4" cy="762.6" r="3.25" fill="#92d050" stroke="#111" stroke-width="0.85"/><circle cx="169.6" cy="759.6" r="3.25" fill="#92d050" stroke="#111" stroke-width="0.85"/><circle cx="135.6" cy="766.4" r="3.25" fill="#92d050" stroke="#111" stroke-width="0.85"/><circle cx="131.6" cy="771.4" r="3.25" fill="#92d050" stroke="#111" stroke-width="0.85"/><circle cx="190.0" cy="774.0" r="3.25" fill="#92d050" stroke="#111" stroke-width="0.85"/><circle cx="133.4" cy="786.0" r="3.25" fill="#92d050" stroke="#111" stroke-width="0.85"/><circle cx="125.6" cy="787.4" r="3.25" fill="#92d050" stroke="#111" stroke-width="0.85"/><circle cx="206.2" cy="738.3" r="3.25" fill="#92d050" stroke="#111" stroke-width="0.85"/><circle cx="204.5" cy="771.2" r="3.25" fill="#92d050" stroke="#111" stroke-width="0.85"/><circle cx="203.5" cy="787.6" r="3.25" fill="#92d050" stroke="#111" stroke-width="0.85"/><circle cx="123.4" cy="789.4" r="3.25" fill="#92d050" stroke="#111" stroke-width="0.85"/><circle cx="119.6" cy="792.0" r="3.25" fill="#92d050" stroke="#111" stroke-width="0.85"/><circle cx="116.0" cy="795.6" r="3.25" fill="#92d050" stroke="#111" stroke-width="0.85"/><circle cx="103.6" cy="800.0" r="3.25" fill="#92d050" stroke="#111" stroke-width="0.85"/><circle cx="97.4" cy="804.4" r="3.25" fill="#92d050" stroke="#111" stroke-width="0.85"/><circle cx="109.6" cy="806.0" r="3.25" fill="#92d050" stroke="#111" stroke-width="0.85"/><circle cx="123.0" cy="800.6" r="3.25" fill="#92d050" stroke="#111" stroke-width="0.85"/><circle cx="122.4" cy="806.0" r="3.25" fill="#92d050" stroke="#111" stroke-width="0.85"/><circle cx="127.6" cy="798.6" r="3.25" fill="#92d050" stroke="#111" stroke-width="0.85"/><circle cx="140.6" cy="797.4" r="3.25" fill="#92d050" stroke="#111" stroke-width="0.85"/><circle cx="135.6" cy="805.4" r="3.25" fill="#92d050" stroke="#111" stroke-width="0.85"/><circle cx="143.0" cy="808.0" r="3.25" fill="#92d050" stroke="#111" stroke-width="0.85"/><circle cx="145.0" cy="804.0" r="3.25" fill="#92d050" stroke="#111" stroke-width="0.85"/><circle cx="149.4" cy="802.4" r="3.25" fill="#92d050" stroke="#111" stroke-width="0.85"/><circle cx="154.4" cy="792.0" r="3.25" fill="#92d050" stroke="#111" stroke-width="0.85"/><circle cx="160.4" cy="796.0" r="3.25" fill="#92d050" stroke="#111" stroke-width="0.85"/><circle cx="163.6" cy="799.4" r="3.25" fill="#92d050" stroke="#111" stroke-width="0.85"/><circle cx="159.0" cy="803.0" r="3.25" fill="#92d050" stroke="#111" stroke-width="0.85"/><circle cx="156.0" cy="810.6" r="3.25" fill="#92d050" stroke="#111" stroke-width="0.85"/><circle cx="181.6" cy="791.0" r="3.25" fill="#92d050" stroke="#111" stroke-width="0.85"/><circle cx="192.0" cy="799.4" r="3.25" fill="#92d050" stroke="#111" stroke-width="0.85"/><circle cx="172.4" cy="811.6" r="3.25" fill="#92d050" stroke="#111" stroke-width="0.85"/><circle cx="185.0" cy="814.4" r="3.25" fill="#92d050" stroke="#111" stroke-width="0.85"/><circle cx="113.4" cy="814.4" r="3.25" fill="#92d050" stroke="#111" stroke-width="0.85"/><circle cx="116.4" cy="815.0" r="3.25" fill="#92d050" stroke="#111" stroke-width="0.85"/><circle cx="98.0" cy="816.4" r="3.25" fill="#92d050" stroke="#111" stroke-width="0.85"/><circle cx="100.4" cy="817.6" r="3.25" fill="#92d050" stroke="#111" stroke-width="0.85"/><circle cx="95.0" cy="821.0" r="3.25" fill="#92d050" stroke="#111" stroke-width="0.85"/><circle cx="97.0" cy="820.6" r="3.25" fill="#92d050" stroke="#111" stroke-width="0.85"/><circle cx="108.4" cy="819.0" r="3.25" fill="#92d050" stroke="#111" stroke-width="0.85"/><circle cx="120.0" cy="823.0" r="3.25" fill="#92d050" stroke="#111" stroke-width="0.85"/><circle cx="126.0" cy="822.4" r="3.25" fill="#92d050" stroke="#111" stroke-width="0.85"/><circle cx="113.4" cy="827.6" r="3.25" fill="#92d050" stroke="#111" stroke-width="0.85"/><circle cx="127.4" cy="830.4" r="3.25" fill="#92d050" stroke="#111" stroke-width="0.85"/><circle cx="104.4" cy="831.0" r="3.25" fill="#92d050" stroke="#111" stroke-width="0.85"/><circle cx="124.0" cy="835.4" r="3.25" fill="#92d050" stroke="#111" stroke-width="0.85"/><circle cx="115.4" cy="841.0" r="3.25" fill="#92d050" stroke="#111" stroke-width="0.85"/><circle cx="117.6" cy="842.4" r="3.25" fill="#92d050" stroke="#111" stroke-width="0.85"/><circle cx="147.4" cy="820.0" r="3.25" fill="#92d050" stroke="#111" stroke-width="0.85"/><circle cx="148.4" cy="839.0" r="3.25" fill="#92d050" stroke="#111" stroke-width="0.85"/><circle cx="202.6" cy="794.6" r="3.25" fill="#92d050" stroke="#111" stroke-width="0.85"/><circle cx="216.1" cy="795.0" r="3.25" fill="#92d050" stroke="#111" stroke-width="0.85"/><circle cx="256.3" cy="798.0" r="3.25" fill="#92d050" stroke="#111" stroke-width="0.85"/><circle cx="236.3" cy="803.9" r="3.25" fill="#92d050" stroke="#111" stroke-width="0.85"/><circle cx="250.5" cy="814.4" r="3.25" fill="#92d050" stroke="#111" stroke-width="0.85"/><circle cx="253.9" cy="814.0" r="3.25" fill="#92d050" stroke="#111" stroke-width="0.85"/><circle cx="195.7" cy="819.3" r="3.25" fill="#92d050" stroke="#111" stroke-width="0.85"/><circle cx="200.5" cy="823.7" r="3.25" fill="#92d050" stroke="#111" stroke-width="0.85"/><circle cx="201.9" cy="828.8" r="3.25" fill="#92d050" stroke="#111" stroke-width="0.85"/><circle cx="211.4" cy="820.5" r="3.25" fill="#92d050" stroke="#111" stroke-width="0.85"/><circle cx="223.4" cy="819.8" r="3.25" fill="#92d050" stroke="#111" stroke-width="0.85"/><circle cx="223.8" cy="829.5" r="3.25" fill="#92d050" stroke="#111" stroke-width="0.85"/><circle cx="208.9" cy="833.4" r="3.25" fill="#92d050" stroke="#111" stroke-width="0.85"/><circle cx="211.9" cy="833.0" r="3.25" fill="#92d050" stroke="#111" stroke-width="0.85"/><circle cx="199.2" cy="837.6" r="3.25" fill="#92d050" stroke="#111" stroke-width="0.85"/><circle cx="225.8" cy="839.4" r="3.25" fill="#92d050" stroke="#111" stroke-width="0.85"/><circle cx="229.7" cy="838.3" r="3.25" fill="#92d050" stroke="#111" stroke-width="0.85"/><circle cx="229.0" cy="844.1" r="3.25" fill="#92d050" stroke="#111" stroke-width="0.85"/><circle cx="261.3" cy="820.5" r="3.25" fill="#92d050" stroke="#111" stroke-width="0.85"/><circle cx="263.0" cy="825.5" r="3.25" fill="#92d050" stroke="#111" stroke-width="0.85"/><circle cx="247.7" cy="829.2" r="3.25" fill="#92d050" stroke="#111" stroke-width="0.85"/><circle cx="248.4" cy="833.8" r="3.25" fill="#92d050" stroke="#111" stroke-width="0.85"/><circle cx="265.0" cy="833.4" r="3.25" fill="#92d050" stroke="#111" stroke-width="0.85"/><circle cx="263.7" cy="836.2" r="3.25" fill="#92d050" stroke="#111" stroke-width="0.85"/><circle cx="267.1" cy="835.5" r="3.25" fill="#92d050" stroke="#111" stroke-width="0.85"/><circle cx="247.7" cy="841.3" r="3.25" fill="#92d050" stroke="#111" stroke-width="0.85"/><circle cx="241.7" cy="843.8" r="3.25" fill="#92d050" stroke="#111" stroke-width="0.85"/><circle cx="257.4" cy="841.0" r="3.25" fill="#92d050" stroke="#111" stroke-width="0.85"/><circle cx="260.9" cy="844.1" r="3.25" fill="#92d050" stroke="#111" stroke-width="0.85"/><circle cx="270.6" cy="844.1" r="3.25" fill="#92d050" stroke="#111" stroke-width="0.85"/><circle cx="211.6" cy="853.0" r="3.25" fill="#92d050" stroke="#111" stroke-width="0.85"/><circle cx="229.0" cy="858.0" r="3.25" fill="#92d050" stroke="#111" stroke-width="0.85"/><circle cx="254.0" cy="852.4" r="3.25" fill="#92d050" stroke="#111" stroke-width="0.85"/><circle cx="263.6" cy="852.0" r="3.25" fill="#92d050" stroke="#111" stroke-width="0.85"/><path d="M173.1 808.0h11M178.6 802.5v11" stroke="#000" stroke-width="2.2" fill="none"/><path d="M221.0 768.5h11M226.5 763.0v11" stroke="#000" stroke-width="2.2" fill="none"/><path d="M69.6 694.3V882.9H335.6" stroke="#000" stroke-width="1.1" fill="none"/><path d="M69.6 694.30h3.6" stroke="#000" stroke-width="1.1"/><text x="58.0" y="698.80" font-size="13" text-anchor="end" fill="#1a1a1a" stroke="#1a1a1a" stroke-width="0.25">0.20</text><path d="M69.6 741.45h3.6" stroke="#000" stroke-width="1.1"/><text x="58.0" y="745.95" font-size="13" text-anchor="end" fill="#1a1a1a" stroke="#1a1a1a" stroke-width="0.25">0.10</text><path d="M69.6 788.60h3.6" stroke="#000" stroke-width="1.1"/><text x="58.0" y="793.10" font-size="13" text-anchor="end" fill="#1a1a1a" stroke="#1a1a1a" stroke-width="0.25">0.00</text><path d="M69.6 835.75h3.6" stroke="#000" stroke-width="1.1"/><text x="58.0" y="840.25" font-size="13" text-anchor="end" fill="#1a1a1a" stroke="#1a1a1a" stroke-width="0.25">-0.10</text><path d="M69.6 882.90h3.6" stroke="#000" stroke-width="1.1"/><text x="58.0" y="887.40" font-size="13" text-anchor="end" fill="#1a1a1a" stroke="#1a1a1a" stroke-width="0.25">-0.20</text><path d="M136.10 882.9v-3.8" stroke="#000" stroke-width="1.1"/><text x="136.10" y="903.10" font-size="13" text-anchor="middle" fill="#1a1a1a" stroke="#1a1a1a" stroke-width="0.25">-0.10</text><path d="M202.60 882.9v-3.8" stroke="#000" stroke-width="1.1"/><text x="202.60" y="903.10" font-size="13" text-anchor="middle" fill="#1a1a1a" stroke="#1a1a1a" stroke-width="0.25">0.00</text><path d="M269.10 882.9v-3.8" stroke="#000" stroke-width="1.1"/><text x="269.10" y="903.10" font-size="13" text-anchor="middle" fill="#1a1a1a" stroke="#1a1a1a" stroke-width="0.25">0.10</text><path d="M335.60 882.9v-3.8" stroke="#000" stroke-width="1.1"/><text x="335.60" y="903.10" font-size="13" text-anchor="middle" fill="#1a1a1a" stroke="#1a1a1a" stroke-width="0.25">0.20</text><text x="81.0" y="707.5" font-size="19.5" font-weight="bold" fill="#000">G</text></g><g><circle cx="536.4" cy="744.6" r="3.25" fill="#92d050" stroke="#111" stroke-width="0.85"/><circle cx="538.4" cy="744.6" r="3.25" fill="#92d050" stroke="#111" stroke-width="0.85"/><circle cx="529.4" cy="746.6" r="3.25" fill="#92d050" stroke="#111" stroke-width="0.85"/><circle cx="518.6" cy="753.4" r="3.25" fill="#92d050" stroke="#111" stroke-width="0.85"/><circle cx="525.4" cy="759.4" r="3.25" fill="#92d050" stroke="#111" stroke-width="0.85"/><circle cx="504.0" cy="769.4" r="3.25" fill="#92d050" stroke="#111" stroke-width="0.85"/><circle cx="507.0" cy="768.6" r="3.25" fill="#92d050" stroke="#111" stroke-width="0.85"/><circle cx="491.4" cy="773.6" r="3.25" fill="#92d050" stroke="#111" stroke-width="0.85"/><circle cx="494.0" cy="778.0" r="3.25" fill="#92d050" stroke="#111" stroke-width="0.85"/><circle cx="501.6" cy="777.0" r="3.25" fill="#92d050" stroke="#111" stroke-width="0.85"/><circle cx="480.4" cy="780.4" r="3.25" fill="#92d050" stroke="#111" stroke-width="0.85"/><circle cx="471.4" cy="782.4" r="3.25" fill="#92d050" stroke="#111" stroke-width="0.85"/><circle cx="475.0" cy="786.6" r="3.25" fill="#92d050" stroke="#111" stroke-width="0.85"/><circle cx="497.0" cy="784.0" r="3.25" fill="#92d050" stroke="#111" stroke-width="0.85"/><circle cx="492.6" cy="785.0" r="3.25" fill="#92d050" stroke="#111" stroke-width="0.85"/><circle cx="489.0" cy="786.6" r="3.25" fill="#92d050" stroke="#111" stroke-width="0.85"/><circle cx="525.0" cy="784.0" r="3.25" fill="#92d050" stroke="#111" stroke-width="0.85"/><circle cx="531.4" cy="775.6" r="3.25" fill="#92d050" stroke="#111" stroke-width="0.85"/><circle cx="584.9" cy="711.2" r="3.25" fill="#92d050" stroke="#111" stroke-width="0.85"/><circle cx="593.6" cy="714.3" r="3.25" fill="#92d050" stroke="#111" stroke-width="0.85"/><circle cx="596.6" cy="718.9" r="3.25" fill="#92d050" stroke="#111" stroke-width="0.85"/><circle cx="587.5" cy="717.9" r="3.25" fill="#92d050" stroke="#111" stroke-width="0.85"/><circle cx="591.5" cy="723.0" r="3.25" fill="#92d050" stroke="#111" stroke-width="0.85"/><circle cx="578.3" cy="723.5" r="3.25" fill="#92d050" stroke="#111" stroke-width="0.85"/><circle cx="583.4" cy="723.0" r="3.25" fill="#92d050" stroke="#111" stroke-width="0.85"/><circle cx="583.4" cy="726.6" r="3.25" fill="#92d050" stroke="#111" stroke-width="0.85"/><circle cx="558.3" cy="726.8" r="3.25" fill="#92d050" stroke="#111" stroke-width="0.85"/><circle cx="549.6" cy="731.2" r="3.25" fill="#92d050" stroke="#111" stroke-width="0.85"/><circle cx="552.7" cy="733.2" r="3.25" fill="#92d050" stroke="#111" stroke-width="0.85"/><circle cx="548.9" cy="738.3" r="3.25" fill="#92d050" stroke="#111" stroke-width="0.85"/><circle cx="573.1" cy="734.2" r="3.25" fill="#92d050" stroke="#111" stroke-width="0.85"/><circle cx="574.7" cy="739.3" r="3.25" fill="#92d050" stroke="#111" stroke-width="0.85"/><circle cx="580.8" cy="737.8" r="3.25" fill="#92d050" stroke="#111" stroke-width="0.85"/><circle cx="565.5" cy="740.1" r="3.25" fill="#92d050" stroke="#111" stroke-width="0.85"/><circle cx="594.6" cy="731.7" r="3.25" fill="#92d050" stroke="#111" stroke-width="0.85"/><circle cx="597.7" cy="731.2" r="3.25" fill="#92d050" stroke="#111" stroke-width="0.85"/><circle cx="600.7" cy="731.2" r="3.25" fill="#92d050" stroke="#111" stroke-width="0.85"/><circle cx="606.9" cy="733.2" r="3.25" fill="#92d050" stroke="#111" stroke-width="0.85"/><circle cx="612.0" cy="737.8" r="3.25" fill="#92d050" stroke="#111" stroke-width="0.85"/><circle cx="569.6" cy="748.0" r="3.25" fill="#92d050" stroke="#111" stroke-width="0.85"/><circle cx="544.5" cy="752.6" r="3.25" fill="#92d050" stroke="#111" stroke-width="0.85"/><circle cx="580.3" cy="755.7" r="3.25" fill="#92d050" stroke="#111" stroke-width="0.85"/><circle cx="593.1" cy="746.0" r="3.25" fill="#92d050" stroke="#111" stroke-width="0.85"/><circle cx="552.2" cy="764.9" r="3.25" fill="#92d050" stroke="#111" stroke-width="0.85"/><circle cx="566.5" cy="770.0" r="3.25" fill="#92d050" stroke="#111" stroke-width="0.85"/><circle cx="580.8" cy="774.6" r="3.25" fill="#92d050" stroke="#111" stroke-width="0.85"/><circle cx="599.7" cy="771.5" r="3.25" fill="#92d050" stroke="#111" stroke-width="0.85"/><circle cx="572.1" cy="782.3" r="3.25" fill="#92d050" stroke="#111" stroke-width="0.85"/><circle cx="597.2" cy="778.7" r="3.25" fill="#92d050" stroke="#111" stroke-width="0.85"/><circle cx="543.0" cy="786.9" r="3.25" fill="#92d050" stroke="#111" stroke-width="0.85"/><circle cx="531.8" cy="776.2" r="3.25" fill="#92d050" stroke="#111" stroke-width="0.85"/><circle cx="540.5" cy="786.7" r="3.25" fill="#92d050" stroke="#111" stroke-width="0.85"/><circle cx="539.3" cy="789.6" r="3.25" fill="#92d050" stroke="#111" stroke-width="0.85"/><circle cx="542.8" cy="797.2" r="3.25" fill="#92d050" stroke="#111" stroke-width="0.85"/><circle cx="539.9" cy="799.5" r="3.25" fill="#92d050" stroke="#111" stroke-width="0.85"/><circle cx="550.1" cy="804.2" r="3.25" fill="#92d050" stroke="#111" stroke-width="0.85"/><circle cx="559.8" cy="801.9" r="3.25" fill="#92d050" stroke="#111" stroke-width="0.85"/><circle cx="582.6" cy="799.5" r="3.25" fill="#92d050" stroke="#111" stroke-width="0.85"/><circle cx="477.0" cy="788.0" r="3.25" fill="#92d050" stroke="#111" stroke-width="0.85"/><circle cx="475.4" cy="791.4" r="3.25" fill="#92d050" stroke="#111" stroke-width="0.85"/><circle cx="458.4" cy="792.4" r="3.25" fill="#92d050" stroke="#111" stroke-width="0.85"/><circle cx="463.6" cy="794.0" r="3.25" fill="#92d050" stroke="#111" stroke-width="0.85"/><circle cx="464.6" cy="796.0" r="3.25" fill="#92d050" stroke="#111" stroke-width="0.85"/><circle cx="490.0" cy="787.0" r="3.25" fill="#92d050" stroke="#111" stroke-width="0.85"/><circle cx="492.4" cy="790.0" r="3.25" fill="#92d050" stroke="#111" stroke-width="0.85"/><circle cx="485.6" cy="793.6" r="3.25" fill="#92d050" stroke="#111" stroke-width="0.85"/><circle cx="488.0" cy="796.0" r="3.25" fill="#92d050" stroke="#111" stroke-width="0.85"/><circle cx="478.6" cy="797.0" r="3.25" fill="#92d050" stroke="#111" stroke-width="0.85"/><circle cx="480.4" cy="802.4" r="3.25" fill="#92d050" stroke="#111" stroke-width="0.85"/><circle cx="484.0" cy="801.0" r="3.25" fill="#92d050" stroke="#111" stroke-width="0.85"/><circle cx="477.0" cy="801.0" r="3.25" fill="#92d050" stroke="#111" stroke-width="0.85"/><circle cx="469.0" cy="801.0" r="3.25" fill="#92d050" stroke="#111" stroke-width="0.85"/><circle cx="472.4" cy="799.6" r="3.25" fill="#92d050" stroke="#111" stroke-width="0.85"/><circle cx="463.0" cy="802.4" r="3.25" fill="#92d050" stroke="#111" stroke-width="0.85"/><circle cx="470.4" cy="807.0" r="3.25" fill="#92d050" stroke="#111" stroke-width="0.85"/><circle cx="463.6" cy="809.6" r="3.25" fill="#92d050" stroke="#111" stroke-width="0.85"/><circle cx="451.0" cy="799.6" r="3.25" fill="#92d050" stroke="#111" stroke-width="0.85"/><circle cx="447.0" cy="801.6" r="3.25" fill="#92d050" stroke="#111" stroke-width="0.85"/><circle cx="449.6" cy="804.0" r="3.25" fill="#92d050" stroke="#111" stroke-width="0.85"/><circle cx="448.0" cy="803.0" r="3.25" fill="#92d050" stroke="#111" stroke-width="0.85"/><circle cx="503.0" cy="803.0" r="3.25" fill="#92d050" stroke="#111" stroke-width="0.85"/><circle cx="509.0" cy="802.0" r="3.25" fill="#92d050" stroke="#111" stroke-width="0.85"/><circle cx="510.4" cy="805.0" r="3.25" fill="#92d050" stroke="#111" stroke-width="0.85"/><circle cx="489.6" cy="809.0" r="3.25" fill="#92d050" stroke="#111" stroke-width="0.85"/><circle cx="493.6" cy="809.0" r="3.25" fill="#92d050" stroke="#111" stroke-width="0.85"/><circle cx="497.4" cy="815.0" r="3.25" fill="#92d050" stroke="#111" stroke-width="0.85"/><circle cx="503.4" cy="813.4" r="3.25" fill="#92d050" stroke="#111" stroke-width="0.85"/><circle cx="520.0" cy="790.4" r="3.25" fill="#92d050" stroke="#111" stroke-width="0.85"/><circle cx="522.6" cy="795.6" r="3.25" fill="#92d050" stroke="#111" stroke-width="0.85"/><circle cx="523.4" cy="801.0" r="3.25" fill="#92d050" stroke="#111" stroke-width="0.85"/><circle cx="523.6" cy="806.4" r="3.25" fill="#92d050" stroke="#111" stroke-width="0.85"/><circle cx="527.0" cy="813.6" r="3.25" fill="#92d050" stroke="#111" stroke-width="0.85"/><circle cx="531.5" cy="797.5" r="3.25" fill="#92d050" stroke="#111" stroke-width="0.85"/><circle cx="624.1" cy="741.1" r="3.25" fill="#808080" stroke="#111" stroke-width="0.85"/><circle cx="640.7" cy="750.8" r="3.25" fill="#808080" stroke="#111" stroke-width="0.85"/><circle cx="642.0" cy="753.8" r="3.25" fill="#808080" stroke="#111" stroke-width="0.85"/><circle cx="619.3" cy="750.3" r="3.25" fill="#808080" stroke="#111" stroke-width="0.85"/><circle cx="619.7" cy="758.2" r="3.25" fill="#808080" stroke="#111" stroke-width="0.85"/><circle cx="646.4" cy="765.2" r="3.25" fill="#808080" stroke="#111" stroke-width="0.85"/><circle cx="658.7" cy="774.8" r="3.25" fill="#808080" stroke="#111" stroke-width="0.85"/><circle cx="628.0" cy="777.9" r="3.25" fill="#808080" stroke="#111" stroke-width="0.85"/><circle cx="640.3" cy="778.8" r="3.25" fill="#808080" stroke="#111" stroke-width="0.85"/><circle cx="598.2" cy="745.5" r="3.25" fill="#808080" stroke="#111" stroke-width="0.85"/><circle cx="600.7" cy="752.6" r="3.25" fill="#808080" stroke="#111" stroke-width="0.85"/><circle cx="608.4" cy="749.6" r="3.25" fill="#808080" stroke="#111" stroke-width="0.85"/><circle cx="611.0" cy="750.1" r="3.25" fill="#808080" stroke="#111" stroke-width="0.85"/><circle cx="600.2" cy="761.3" r="3.25" fill="#808080" stroke="#111" stroke-width="0.85"/><circle cx="607.9" cy="759.8" r="3.25" fill="#808080" stroke="#111" stroke-width="0.85"/><circle cx="612.5" cy="769.5" r="3.25" fill="#808080" stroke="#111" stroke-width="0.85"/><circle cx="629.2" cy="784.1" r="3.25" fill="#808080" stroke="#111" stroke-width="0.85"/><circle cx="643.2" cy="789.3" r="3.25" fill="#808080" stroke="#111" stroke-width="0.85"/><circle cx="647.9" cy="785.3" r="3.25" fill="#808080" stroke="#111" stroke-width="0.85"/><circle cx="612.8" cy="804.5" r="3.25" fill="#808080" stroke="#111" stroke-width="0.85"/><circle cx="628.0" cy="801.6" r="3.25" fill="#808080" stroke="#111" stroke-width="0.85"/><circle cx="627.4" cy="805.1" r="3.25" fill="#808080" stroke="#111" stroke-width="0.85"/><circle cx="635.6" cy="805.7" r="3.25" fill="#808080" stroke="#111" stroke-width="0.85"/><circle cx="656.1" cy="796.9" r="3.25" fill="#808080" stroke="#111" stroke-width="0.85"/><circle cx="600.0" cy="811.5" r="3.25" fill="#808080" stroke="#111" stroke-width="0.85"/><circle cx="601.8" cy="816.2" r="3.25" fill="#808080" stroke="#111" stroke-width="0.85"/><circle cx="629.2" cy="815.0" r="3.25" fill="#808080" stroke="#111" stroke-width="0.85"/><circle cx="644.4" cy="813.3" r="3.25" fill="#808080" stroke="#111" stroke-width="0.85"/><circle cx="642.6" cy="822.0" r="3.25" fill="#808080" stroke="#111" stroke-width="0.85"/><circle cx="663.1" cy="809.2" r="3.25" fill="#808080" stroke="#111" stroke-width="0.85"/><circle cx="660.7" cy="816.2" r="3.25" fill="#808080" stroke="#111" stroke-width="0.85"/><circle cx="615.8" cy="821.5" r="3.25" fill="#808080" stroke="#111" stroke-width="0.85"/><circle cx="612.8" cy="827.3" r="3.25" fill="#808080" stroke="#111" stroke-width="0.85"/><circle cx="622.8" cy="825.0" r="3.25" fill="#808080" stroke="#111" stroke-width="0.85"/><circle cx="628.0" cy="827.9" r="3.25" fill="#808080" stroke="#111" stroke-width="0.85"/><circle cx="634.5" cy="829.1" r="3.25" fill="#808080" stroke="#111" stroke-width="0.85"/><circle cx="616.4" cy="836.1" r="3.25" fill="#808080" stroke="#111" stroke-width="0.85"/><circle cx="629.2" cy="839.0" r="3.25" fill="#808080" stroke="#111" stroke-width="0.85"/><circle cx="531.8" cy="795.4" r="3.25" fill="#808080" stroke="#111" stroke-width="0.85"/><circle cx="531.2" cy="807.7" r="3.25" fill="#808080" stroke="#111" stroke-width="0.85"/><circle cx="541.7" cy="808.3" r="3.25" fill="#808080" stroke="#111" stroke-width="0.85"/><circle cx="535.8" cy="813.0" r="3.25" fill="#808080" stroke="#111" stroke-width="0.85"/><circle cx="542.6" cy="814.1" r="3.25" fill="#808080" stroke="#111" stroke-width="0.85"/><circle cx="553.4" cy="809.5" r="3.25" fill="#808080" stroke="#111" stroke-width="0.85"/><circle cx="558.0" cy="811.8" r="3.25" fill="#808080" stroke="#111" stroke-width="0.85"/><circle cx="560.4" cy="807.1" r="3.25" fill="#808080" stroke="#111" stroke-width="0.85"/><circle cx="565.6" cy="807.1" r="3.25" fill="#808080" stroke="#111" stroke-width="0.85"/><circle cx="565.0" cy="815.3" r="3.25" fill="#808080" stroke="#111" stroke-width="0.85"/><circle cx="571.5" cy="822.3" r="3.25" fill="#808080" stroke="#111" stroke-width="0.85"/><circle cx="604.2" cy="798.9" r="3.25" fill="#808080" stroke="#111" stroke-width="0.85"/><circle cx="601.8" cy="821.1" r="3.25" fill="#808080" stroke="#111" stroke-width="0.85"/><circle cx="605.3" cy="822.3" r="3.25" fill="#808080" stroke="#111" stroke-width="0.85"/><circle cx="604.7" cy="827.0" r="3.25" fill="#808080" stroke="#111" stroke-width="0.85"/><circle cx="603.6" cy="835.7" r="3.25" fill="#808080" stroke="#111" stroke-width="0.85"/><circle cx="603.6" cy="839.2" r="3.25" fill="#808080" stroke="#111" stroke-width="0.85"/><circle cx="598.9" cy="842.7" r="3.25" fill="#808080" stroke="#111" stroke-width="0.85"/><circle cx="507.4" cy="791.0" r="3.25" fill="#808080" stroke="#111" stroke-width="0.85"/><circle cx="635.5" cy="745.5" r="3.25" fill="#ff3300" stroke="#111" stroke-width="0.85"/><circle cx="633.7" cy="747.3" r="3.25" fill="#ff3300" stroke="#111" stroke-width="0.85"/><circle cx="624.5" cy="759.5" r="3.25" fill="#ff3300" stroke="#111" stroke-width="0.85"/><circle cx="633.3" cy="758.2" r="3.25" fill="#ff3300" stroke="#111" stroke-width="0.85"/><circle cx="638.5" cy="758.2" r="3.25" fill="#ff3300" stroke="#111" stroke-width="0.85"/><circle cx="640.3" cy="758.6" r="3.25" fill="#ff3300" stroke="#111" stroke-width="0.85"/><circle cx="616.2" cy="766.1" r="3.25" fill="#ff3300" stroke="#111" stroke-width="0.85"/><circle cx="621.5" cy="766.1" r="3.25" fill="#ff3300" stroke="#111" stroke-width="0.85"/><circle cx="619.3" cy="768.7" r="3.25" fill="#ff3300" stroke="#111" stroke-width="0.85"/><circle cx="619.3" cy="772.7" r="3.25" fill="#ff3300" stroke="#111" stroke-width="0.85"/><circle cx="627.1" cy="771.3" r="3.25" fill="#ff3300" stroke="#111" stroke-width="0.85"/><circle cx="631.5" cy="772.2" r="3.25" fill="#ff3300" stroke="#111" stroke-width="0.85"/><circle cx="635.5" cy="772.2" r="3.25" fill="#ff3300" stroke="#111" stroke-width="0.85"/><circle cx="640.7" cy="771.3" r="3.25" fill="#ff3300" stroke="#111" stroke-width="0.85"/><circle cx="644.2" cy="775.3" r="3.25" fill="#ff3300" stroke="#111" stroke-width="0.85"/><circle cx="598.2" cy="784.8" r="3.25" fill="#ff3300" stroke="#111" stroke-width="0.85"/><circle cx="609.4" cy="777.7" r="3.25" fill="#ff3300" stroke="#111" stroke-width="0.85"/><circle cx="593.1" cy="788.9" r="3.25" fill="#ff3300" stroke="#111" stroke-width="0.85"/><circle cx="618.7" cy="785.3" r="3.25" fill="#ff3300" stroke="#111" stroke-width="0.85"/><circle cx="619.9" cy="788.2" r="3.25" fill="#ff3300" stroke="#111" stroke-width="0.85"/><circle cx="636.2" cy="781.2" r="3.25" fill="#ff3300" stroke="#111" stroke-width="0.85"/><circle cx="638.5" cy="785.8" r="3.25" fill="#ff3300" stroke="#111" stroke-width="0.85"/><circle cx="632.7" cy="789.9" r="3.25" fill="#ff3300" stroke="#111" stroke-width="0.85"/><circle cx="653.1" cy="785.3" r="3.25" fill="#ff3300" stroke="#111" stroke-width="0.85"/><circle cx="657.2" cy="788.2" r="3.25" fill="#ff3300" stroke="#111" stroke-width="0.85"/><circle cx="656.6" cy="789.9" r="3.25" fill="#ff3300" stroke="#111" stroke-width="0.85"/><circle cx="624.5" cy="794.6" r="3.25" fill="#ff3300" stroke="#111" stroke-width="0.85"/><circle cx="621.6" cy="802.8" r="3.25" fill="#ff3300" stroke="#111" stroke-width="0.85"/><circle cx="632.1" cy="796.9" r="3.25" fill="#ff3300" stroke="#111" stroke-width="0.85"/><circle cx="636.2" cy="796.9" r="3.25" fill="#ff3300" stroke="#111" stroke-width="0.85"/><circle cx="634.5" cy="801.6" r="3.25" fill="#ff3300" stroke="#111" stroke-width="0.85"/><circle cx="643.2" cy="798.7" r="3.25" fill="#ff3300" stroke="#111" stroke-width="0.85"/><circle cx="642.6" cy="803.4" r="3.25" fill="#ff3300" stroke="#111" stroke-width="0.85"/><circle cx="647.9" cy="803.4" r="3.25" fill="#ff3300" stroke="#111" stroke-width="0.85"/><circle cx="650.2" cy="798.7" r="3.25" fill="#ff3300" stroke="#111" stroke-width="0.85"/><circle cx="653.1" cy="799.9" r="3.25" fill="#ff3300" stroke="#111" stroke-width="0.85"/><circle cx="642.6" cy="808.0" r="3.25" fill="#ff3300" stroke="#111" stroke-width="0.85"/><circle cx="619.3" cy="812.1" r="3.25" fill="#ff3300" stroke="#111" stroke-width="0.85"/><circle cx="621.6" cy="810.4" r="3.25" fill="#ff3300" stroke="#111" stroke-width="0.85"/><circle cx="626.9" cy="809.8" r="3.25" fill="#ff3300" stroke="#111" stroke-width="0.85"/><circle cx="623.4" cy="815.0" r="3.25" fill="#ff3300" stroke="#111" stroke-width="0.85"/><circle cx="625.1" cy="816.2" r="3.25" fill="#ff3300" stroke="#111" stroke-width="0.85"/><circle cx="633.9" cy="816.2" r="3.25" fill="#ff3300" stroke="#111" stroke-width="0.85"/><circle cx="638.5" cy="815.0" r="3.25" fill="#ff3300" stroke="#111" stroke-width="0.85"/><circle cx="639.7" cy="818.5" r="3.25" fill="#ff3300" stroke="#111" stroke-width="0.85"/><circle cx="642.6" cy="819.1" r="3.25" fill="#ff3300" stroke="#111" stroke-width="0.85"/><circle cx="630.4" cy="820.9" r="3.25" fill="#ff3300" stroke="#111" stroke-width="0.85"/><circle cx="635.0" cy="824.4" r="3.25" fill="#ff3300" stroke="#111" stroke-width="0.85"/><circle cx="565.6" cy="811.2" r="3.25" fill="#ff3300" stroke="#111" stroke-width="0.85"/><circle cx="568.0" cy="813.5" r="3.25" fill="#ff3300" stroke="#111" stroke-width="0.85"/><circle cx="551.6" cy="823.5" r="3.25" fill="#ff3300" stroke="#111" stroke-width="0.85"/><circle cx="569.7" cy="824.6" r="3.25" fill="#ff3300" stroke="#111" stroke-width="0.85"/><circle cx="569.7" cy="826.4" r="3.25" fill="#ff3300" stroke="#111" stroke-width="0.85"/><circle cx="586.6" cy="805.9" r="3.25" fill="#ff3300" stroke="#111" stroke-width="0.85"/><circle cx="594.0" cy="804.2" r="3.25" fill="#ff3300" stroke="#111" stroke-width="0.85"/><circle cx="598.3" cy="803.6" r="3.25" fill="#ff3300" stroke="#111" stroke-width="0.85"/><circle cx="584.9" cy="811.2" r="3.25" fill="#ff3300" stroke="#111" stroke-width="0.85"/><circle cx="587.2" cy="814.7" r="3.25" fill="#ff3300" stroke="#111" stroke-width="0.85"/><circle cx="591.9" cy="810.0" r="3.25" fill="#ff3300" stroke="#111" stroke-width="0.85"/><circle cx="597.7" cy="814.1" r="3.25" fill="#ff3300" stroke="#111" stroke-width="0.85"/><circle cx="606.5" cy="806.5" r="3.25" fill="#ff3300" stroke="#111" stroke-width="0.85"/><circle cx="608.2" cy="800.7" r="3.25" fill="#ff3300" stroke="#111" stroke-width="0.85"/><circle cx="607.1" cy="814.1" r="3.25" fill="#ff3300" stroke="#111" stroke-width="0.85"/><circle cx="604.2" cy="818.8" r="3.25" fill="#ff3300" stroke="#111" stroke-width="0.85"/><circle cx="591.9" cy="820.5" r="3.25" fill="#ff3300" stroke="#111" stroke-width="0.85"/><circle cx="584.9" cy="822.3" r="3.25" fill="#ff3300" stroke="#111" stroke-width="0.85"/><circle cx="588.4" cy="826.4" r="3.25" fill="#ff3300" stroke="#111" stroke-width="0.85"/><circle cx="589.6" cy="828.1" r="3.25" fill="#ff3300" stroke="#111" stroke-width="0.85"/><circle cx="591.3" cy="833.4" r="3.25" fill="#ff3300" stroke="#111" stroke-width="0.85"/><path d="M522.9 772.4h11M528.4 766.9v11" stroke="#000" stroke-width="2.2" fill="none"/><path d="M606.8 798.1h11M612.3 792.6v11" stroke="#000" stroke-width="2.2" fill="none"/><path d="M613.2 798.1h11M618.7 792.6v11" stroke="#000" stroke-width="2.2" fill="none"/><path d="M406.6 694.3V882.9H672.6" stroke="#000" stroke-width="1.1" fill="none"/><path d="M406.6 694.30h3.6" stroke="#000" stroke-width="1.1"/><text x="395.0" y="698.80" font-size="13" text-anchor="end" fill="#1a1a1a" stroke="#1a1a1a" stroke-width="0.25">0.20</text><path d="M406.6 741.45h3.6" stroke="#000" stroke-width="1.1"/><text x="395.0" y="745.95" font-size="13" text-anchor="end" fill="#1a1a1a" stroke="#1a1a1a" stroke-width="0.25">0.10</text><path d="M406.6 788.60h3.6" stroke="#000" stroke-width="1.1"/><text x="395.0" y="793.10" font-size="13" text-anchor="end" fill="#1a1a1a" stroke="#1a1a1a" stroke-width="0.25">0.00</text><path d="M406.6 835.75h3.6" stroke="#000" stroke-width="1.1"/><text x="395.0" y="840.25" font-size="13" text-anchor="end" fill="#1a1a1a" stroke="#1a1a1a" stroke-width="0.25">-0.10</text><path d="M406.6 882.90h3.6" stroke="#000" stroke-width="1.1"/><text x="395.0" y="887.40" font-size="13" text-anchor="end" fill="#1a1a1a" stroke="#1a1a1a" stroke-width="0.25">-0.20</text><path d="M495.27 882.9v-3.8" stroke="#000" stroke-width="1.1"/><text x="495.27" y="903.10" font-size="13" text-anchor="middle" fill="#1a1a1a" stroke="#1a1a1a" stroke-width="0.25">-0.10</text><path d="M583.93 882.9v-3.8" stroke="#000" stroke-width="1.1"/><text x="583.93" y="903.10" font-size="13" text-anchor="middle" fill="#1a1a1a" stroke="#1a1a1a" stroke-width="0.25">0.00</text><path d="M672.60 882.9v-3.8" stroke="#000" stroke-width="1.1"/><text x="672.60" y="903.10" font-size="13" text-anchor="middle" fill="#1a1a1a" stroke="#1a1a1a" stroke-width="0.25">0.10</text><text x="422.0" y="707.5" font-size="19.5" font-weight="bold" fill="#000">H</text></g><text x="370.5" y="932.3" font-size="17.2" text-anchor="middle" fill="#1a1a1a" stroke="#1a1a1a" stroke-width="0.25">PCoA 1</text><text transform="translate(13.6,442.7) rotate(-90)" font-size="17.5" text-anchor="middle" fill="#1a1a1a" stroke="#1a1a1a" stroke-width="0.25">PCoA 2</text><rect x="21" y="330" width="1.3" height="1.6" fill="#d8d8d8"/><rect x="21" y="557.6" width="1.3" height="1.4" fill="#c8c8c8"/></svg></body></html>
